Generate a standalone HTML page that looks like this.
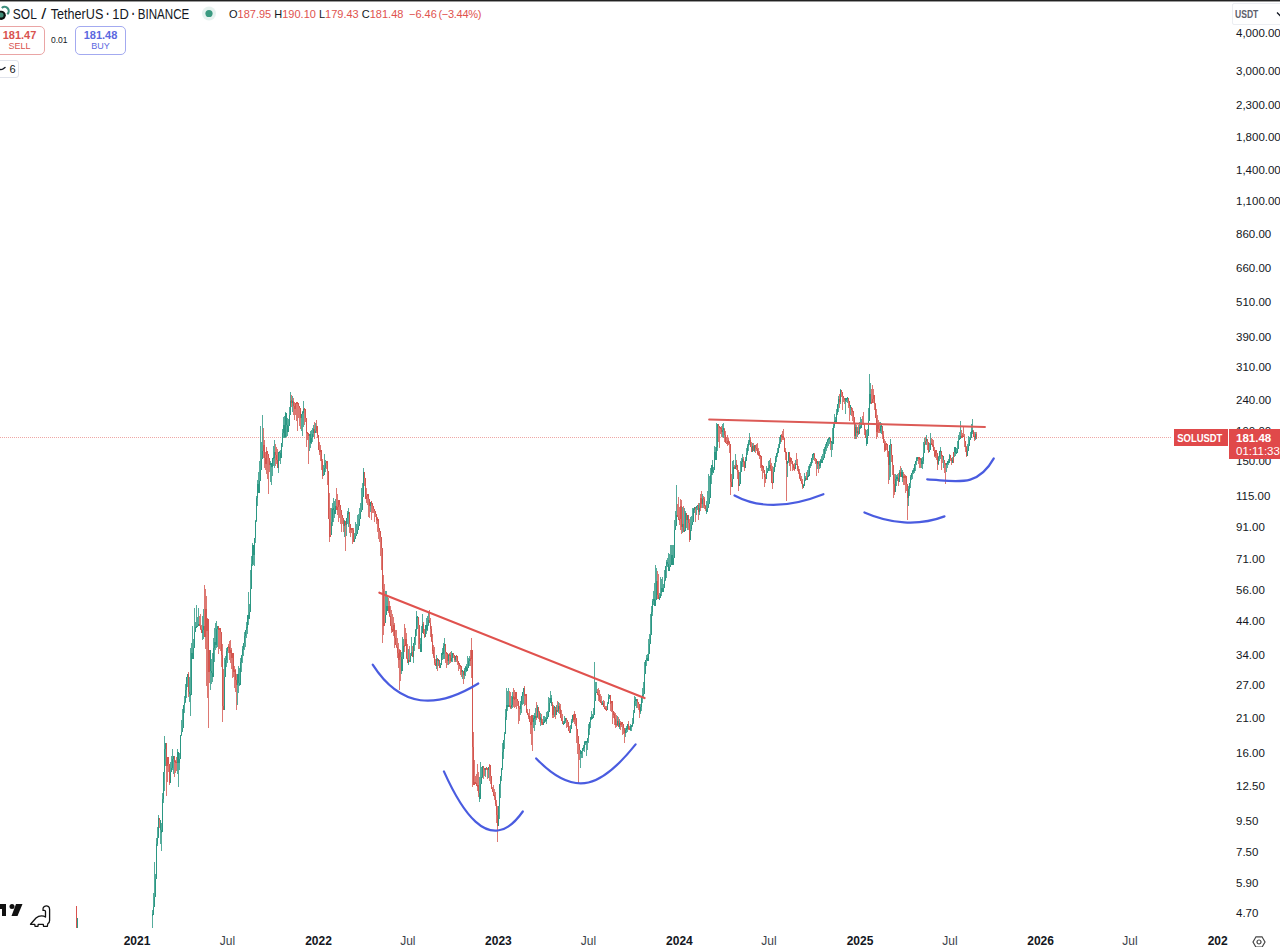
<!DOCTYPE html>
<html><head><meta charset="utf-8">
<style>
html,body{margin:0;padding:0;background:#fff;}
body{width:1280px;height:947px;position:relative;overflow:hidden;font-family:"Liberation Sans",sans-serif;color:#131722;}
.abs{position:absolute;}
.topbar{position:absolute;left:0;top:0;width:1280px;height:1px;background:#222;border-bottom:1px solid #999;}
.usdt{position:absolute;left:1232px;top:3px;width:60px;height:20px;border:1px solid #eceef2;border-radius:2px;font-size:10.5px;font-weight:bold;line-height:20px;color:#5d606b;}
.usdt span{position:absolute;left:2px;top:0;font-size:11px;transform:scaleX(0.78);transform-origin:0 50%;}
.title{position:absolute;left:13px;top:6px;font-size:14px;line-height:17px;color:#131722;white-space:nowrap;letter-spacing:0px;transform:scaleX(0.873);transform-origin:0 0;}
.ohlc{position:absolute;left:229px;top:8px;font-size:11px;line-height:13px;white-space:nowrap;color:#131722;}
.ohlc .r{color:#e0524e;}
.box{position:absolute;top:26px;height:27px;border-radius:5px;background:#fff;text-align:center;}
.sell{left:-6px;width:49px;border:1px solid #eaa5a5;}
.buy{left:75px;width:49px;border:1px solid #a3aaf0;}
.box .p{font-size:11px;font-weight:bold;line-height:12px;margin-top:1.5px;}
.box .l{font-size:9px;line-height:11px;margin-top:0px;}
.sell .p,.sell .l{color:#d9534f;}
.buy .p,.buy .l{color:#5b68e0;}
.spread{position:absolute;left:51px;top:35px;font-size:8.5px;line-height:10px;color:#131722;}
.ind{position:absolute;left:-4px;top:60px;width:21px;height:16px;border:1px solid #e0e3eb;border-radius:3px;font-size:11px;line-height:17px;}
.ind span{position:absolute;left:12.5px;top:-0.5px;}
.pl{position:absolute;left:1236px;font-size:11.5px;line-height:14px;color:#131722;white-space:nowrap;}
.tlwrap{position:absolute;left:0;top:0;width:1228px;height:947px;overflow:hidden;}
.tl{position:absolute;top:934px;width:60px;text-align:center;font-size:12px;line-height:14px;color:#3b3f4a;}
.tl.b{font-weight:bold;color:#131722;}
</style></head><body>
<svg class="abs" style="left:0;top:0" width="1280" height="947" viewBox="0 0 1280 947">
<line x1="0" y1="437.5" x2="1172" y2="437.5" stroke="#e0524e" stroke-width="1" stroke-dasharray="1,1" opacity="0.5"/>
<g shape-rendering="crispEdges">
<rect x="76" y="906" width="1" height="22" fill="#d9534f"/>
<rect x="77" y="918" width="1" height="10" fill="#2f9a86"/>
<rect x="152" y="909.7" width="1" height="18.3" fill="#2b9783" fill-opacity="0.8"/>
<rect x="152" y="914.1" width="1" height="1.5" fill="#2b9783"/>
<rect x="153" y="893.0" width="1" height="22.0" fill="#2b9783" fill-opacity="0.8"/>
<rect x="153" y="907.2" width="1" height="7.6" fill="#2b9783"/>
<rect x="154" y="862.0" width="1" height="35.0" fill="#2b9783" fill-opacity="0.8"/>
<rect x="154" y="897.0" width="1" height="10.2" fill="#2b9783"/>
<rect x="155" y="873.5" width="1" height="5.9" fill="#2b9783" fill-opacity="0.8"/>
<rect x="155" y="879.4" width="1" height="17.6" fill="#2b9783"/>
<rect x="156" y="838.0" width="1" height="24.2" fill="#2b9783" fill-opacity="0.8"/>
<rect x="156" y="843.9" width="1" height="35.5" fill="#2b9783"/>
<rect x="157" y="827.3" width="1" height="19.0" fill="#2b9783" fill-opacity="0.8"/>
<rect x="157" y="838.3" width="1" height="5.6" fill="#2b9783"/>
<rect x="158" y="815.0" width="1" height="19.8" fill="#2b9783" fill-opacity="0.8"/>
<rect x="158" y="818.2" width="1" height="20.1" fill="#2b9783"/>
<rect x="159" y="820.1" width="1" height="7.4" fill="#d4564f" fill-opacity="0.8"/>
<rect x="159" y="818.2" width="1" height="1.9" fill="#d4564f"/>
<rect x="160" y="823.0" width="1" height="21.2" fill="#2b9783" fill-opacity="0.8"/>
<rect x="160" y="820.1" width="1" height="10.3" fill="#2b9783"/>
<rect x="161" y="823.0" width="1" height="28.0" fill="#2b9783" fill-opacity="0.8"/>
<rect x="161" y="829.6" width="1" height="2.9" fill="#2b9783"/>
<rect x="162" y="793.0" width="1" height="34.0" fill="#2b9783" fill-opacity="0.8"/>
<rect x="162" y="798.5" width="1" height="33.2" fill="#2b9783"/>
<rect x="163" y="772.3" width="1" height="30.7" fill="#2b9783" fill-opacity="0.8"/>
<rect x="163" y="772.3" width="1" height="26.2" fill="#2b9783"/>
<rect x="164" y="736.0" width="1" height="55.0" fill="#2b9783" fill-opacity="0.8"/>
<rect x="164" y="749.0" width="1" height="23.3" fill="#2b9783"/>
<rect x="165" y="743.3" width="1" height="22.9" fill="#2b9783" fill-opacity="0.8"/>
<rect x="165" y="743.3" width="1" height="5.7" fill="#2b9783"/>
<rect x="166" y="755.0" width="1" height="41.0" fill="#d4564f" fill-opacity="0.8"/>
<rect x="166" y="743.3" width="1" height="23.1" fill="#d4564f"/>
<rect x="167" y="757.4" width="1" height="25.0" fill="#d4564f" fill-opacity="0.8"/>
<rect x="167" y="757.4" width="1" height="9.0" fill="#d4564f"/>
<rect x="168" y="763.6" width="1" height="8.6" fill="#d4564f" fill-opacity="0.8"/>
<rect x="168" y="757.4" width="1" height="6.2" fill="#d4564f"/>
<rect x="169" y="768.8" width="1" height="16.2" fill="#d4564f" fill-opacity="0.8"/>
<rect x="169" y="763.6" width="1" height="19.7" fill="#d4564f"/>
<rect x="170" y="762.0" width="1" height="12.8" fill="#2b9783" fill-opacity="0.8"/>
<rect x="170" y="772.2" width="1" height="11.1" fill="#2b9783"/>
<rect x="171" y="755.8" width="1" height="16.3" fill="#2b9783" fill-opacity="0.8"/>
<rect x="171" y="768.1" width="1" height="4.1" fill="#2b9783"/>
<rect x="172" y="749.0" width="1" height="21.0" fill="#2b9783" fill-opacity="0.8"/>
<rect x="172" y="759.2" width="1" height="8.8" fill="#2b9783"/>
<rect x="173" y="755.8" width="1" height="17.8" fill="#2b9783" fill-opacity="0.8"/>
<rect x="173" y="755.8" width="1" height="3.4" fill="#2b9783"/>
<rect x="174" y="761.8" width="1" height="15.2" fill="#d4564f" fill-opacity="0.8"/>
<rect x="174" y="755.8" width="1" height="5.9" fill="#d4564f"/>
<rect x="175" y="759.7" width="1" height="13.3" fill="#d4564f" fill-opacity="0.8"/>
<rect x="175" y="761.0" width="1" height="2.0" fill="#d4564f"/>
<rect x="176" y="756.7" width="1" height="13.9" fill="#d4564f" fill-opacity="0.8"/>
<rect x="176" y="761.5" width="1" height="1.8" fill="#d4564f"/>
<rect x="177" y="749.0" width="1" height="25.0" fill="#2b9783" fill-opacity="0.8"/>
<rect x="177" y="751.7" width="1" height="10.8" fill="#2b9783"/>
<rect x="178" y="755.5" width="1" height="31.5" fill="#2b9783" fill-opacity="0.8"/>
<rect x="178" y="751.7" width="1" height="10.8" fill="#2b9783"/>
<rect x="179" y="753.3" width="1" height="16.7" fill="#2b9783" fill-opacity="0.8"/>
<rect x="179" y="759.4" width="1" height="3.2" fill="#2b9783"/>
<rect x="180" y="734.6" width="1" height="18.4" fill="#2b9783" fill-opacity="0.8"/>
<rect x="180" y="734.6" width="1" height="24.8" fill="#2b9783"/>
<rect x="181" y="720.0" width="1" height="16.0" fill="#2b9783" fill-opacity="0.8"/>
<rect x="181" y="731.5" width="1" height="3.2" fill="#2b9783"/>
<rect x="182" y="709.0" width="1" height="19.0" fill="#2b9783" fill-opacity="0.8"/>
<rect x="182" y="728.0" width="1" height="3.5" fill="#2b9783"/>
<rect x="183" y="704.7" width="1" height="15.7" fill="#2b9783" fill-opacity="0.8"/>
<rect x="183" y="705.0" width="1" height="23.0" fill="#2b9783"/>
<rect x="184" y="696.0" width="1" height="17.0" fill="#2b9783" fill-opacity="0.8"/>
<rect x="184" y="702.2" width="1" height="2.7" fill="#2b9783"/>
<rect x="185" y="684.0" width="1" height="19.0" fill="#2b9783" fill-opacity="0.8"/>
<rect x="185" y="689.9" width="1" height="12.3" fill="#2b9783"/>
<rect x="186" y="676.5" width="1" height="21.5" fill="#2b9783" fill-opacity="0.8"/>
<rect x="186" y="676.7" width="1" height="13.2" fill="#2b9783"/>
<rect x="187" y="673.5" width="1" height="13.7" fill="#2b9783" fill-opacity="0.8"/>
<rect x="187" y="673.5" width="1" height="3.2" fill="#2b9783"/>
<rect x="188" y="672.0" width="1" height="24.5" fill="#d4564f" fill-opacity="0.8"/>
<rect x="188" y="673.5" width="1" height="18.6" fill="#d4564f"/>
<rect x="189" y="676.5" width="1" height="25.6" fill="#2b9783" fill-opacity="0.8"/>
<rect x="189" y="692.1" width="1" height="2.2" fill="#2b9783"/>
<rect x="190" y="648.0" width="1" height="68.0" fill="#2b9783" fill-opacity="0.8"/>
<rect x="190" y="693.5" width="1" height="2.2" fill="#2b9783"/>
<rect x="191" y="642.5" width="1" height="26.5" fill="#2b9783" fill-opacity="0.8"/>
<rect x="191" y="653.4" width="1" height="41.6" fill="#2b9783"/>
<rect x="192" y="626.0" width="1" height="33.0" fill="#2b9783" fill-opacity="0.8"/>
<rect x="192" y="653.4" width="1" height="5.3" fill="#2b9783"/>
<rect x="193" y="639.1" width="1" height="8.9" fill="#2b9783" fill-opacity="0.8"/>
<rect x="193" y="648.0" width="1" height="10.7" fill="#2b9783"/>
<rect x="194" y="608.0" width="1" height="28.0" fill="#2b9783" fill-opacity="0.8"/>
<rect x="194" y="632.2" width="1" height="15.8" fill="#2b9783"/>
<rect x="195" y="621.6" width="1" height="7.4" fill="#2b9783" fill-opacity="0.8"/>
<rect x="195" y="627.4" width="1" height="4.8" fill="#2b9783"/>
<rect x="196" y="605.0" width="1" height="22.0" fill="#2b9783" fill-opacity="0.8"/>
<rect x="196" y="626.2" width="1" height="1.9" fill="#2b9783"/>
<rect x="197" y="617.1" width="1" height="8.4" fill="#2b9783" fill-opacity="0.8"/>
<rect x="197" y="625.5" width="1" height="1.5" fill="#2b9783"/>
<rect x="198" y="608.0" width="1" height="16.5" fill="#2b9783" fill-opacity="0.8"/>
<rect x="198" y="623.8" width="1" height="2.5" fill="#2b9783"/>
<rect x="199" y="616.3" width="1" height="9.2" fill="#d4564f" fill-opacity="0.8"/>
<rect x="199" y="623.8" width="1" height="2.5" fill="#d4564f"/>
<rect x="200" y="613.7" width="1" height="16.3" fill="#d4564f" fill-opacity="0.8"/>
<rect x="200" y="625.5" width="1" height="3.0" fill="#d4564f"/>
<rect x="201" y="624.6" width="1" height="7.9" fill="#d4564f" fill-opacity="0.8"/>
<rect x="201" y="628.5" width="1" height="4.0" fill="#d4564f"/>
<rect x="202" y="616.0" width="1" height="24.0" fill="#2b9783" fill-opacity="0.8"/>
<rect x="202" y="629.8" width="1" height="2.7" fill="#2b9783"/>
<rect x="203" y="609.3" width="1" height="29.7" fill="#2b9783" fill-opacity="0.8"/>
<rect x="203" y="626.0" width="1" height="3.8" fill="#2b9783"/>
<rect x="204" y="585.0" width="1" height="52.0" fill="#d4564f" fill-opacity="0.8"/>
<rect x="204" y="626.0" width="1" height="11.0" fill="#d4564f"/>
<rect x="205" y="588.8" width="1" height="59.8" fill="#d4564f" fill-opacity="0.8"/>
<rect x="205" y="609.1" width="1" height="27.9" fill="#d4564f"/>
<rect x="206" y="596.2" width="1" height="89.8" fill="#d4564f" fill-opacity="0.8"/>
<rect x="206" y="609.1" width="1" height="21.6" fill="#d4564f"/>
<rect x="207" y="618.0" width="1" height="79.8" fill="#d4564f" fill-opacity="0.8"/>
<rect x="207" y="619.3" width="1" height="11.4" fill="#d4564f"/>
<rect x="208" y="636.0" width="1" height="92.0" fill="#d4564f" fill-opacity="0.8"/>
<rect x="208" y="619.3" width="1" height="52.9" fill="#d4564f"/>
<rect x="209" y="649.5" width="1" height="33.6" fill="#d4564f" fill-opacity="0.8"/>
<rect x="209" y="649.5" width="1" height="22.6" fill="#d4564f"/>
<rect x="210" y="654.0" width="1" height="36.0" fill="#2b9783" fill-opacity="0.8"/>
<rect x="210" y="649.5" width="1" height="21.4" fill="#2b9783"/>
<rect x="211" y="658.5" width="1" height="25.5" fill="#2b9783" fill-opacity="0.8"/>
<rect x="211" y="670.9" width="1" height="1.6" fill="#2b9783"/>
<rect x="212" y="652.5" width="1" height="29.5" fill="#2b9783" fill-opacity="0.8"/>
<rect x="212" y="672.5" width="1" height="4.5" fill="#2b9783"/>
<rect x="213" y="637.7" width="1" height="29.3" fill="#2b9783" fill-opacity="0.8"/>
<rect x="213" y="647.9" width="1" height="29.1" fill="#2b9783"/>
<rect x="214" y="627.8" width="1" height="34.2" fill="#2b9783" fill-opacity="0.8"/>
<rect x="214" y="642.4" width="1" height="5.5" fill="#2b9783"/>
<rect x="215" y="623.2" width="1" height="26.8" fill="#2b9783" fill-opacity="0.8"/>
<rect x="215" y="642.4" width="1" height="2.4" fill="#2b9783"/>
<rect x="216" y="621.0" width="1" height="27.0" fill="#2b9783" fill-opacity="0.8"/>
<rect x="216" y="629.0" width="1" height="15.8" fill="#2b9783"/>
<rect x="217" y="626.2" width="1" height="21.0" fill="#2b9783" fill-opacity="0.8"/>
<rect x="217" y="626.2" width="1" height="2.7" fill="#2b9783"/>
<rect x="218" y="628.0" width="1" height="26.0" fill="#d4564f" fill-opacity="0.8"/>
<rect x="218" y="626.2" width="1" height="3.6" fill="#d4564f"/>
<rect x="219" y="628.0" width="1" height="21.0" fill="#d4564f" fill-opacity="0.8"/>
<rect x="219" y="628.0" width="1" height="1.9" fill="#d4564f"/>
<rect x="220" y="628.0" width="1" height="22.8" fill="#d4564f" fill-opacity="0.8"/>
<rect x="220" y="628.0" width="1" height="4.0" fill="#d4564f"/>
<rect x="221" y="640.0" width="1" height="26.6" fill="#d4564f" fill-opacity="0.8"/>
<rect x="221" y="632.0" width="1" height="23.3" fill="#d4564f"/>
<rect x="222" y="644.0" width="1" height="78.0" fill="#d4564f" fill-opacity="0.8"/>
<rect x="222" y="655.3" width="1" height="50.7" fill="#d4564f"/>
<rect x="223" y="668.8" width="1" height="41.2" fill="#d4564f" fill-opacity="0.8"/>
<rect x="223" y="706.0" width="1" height="4.0" fill="#d4564f"/>
<rect x="224" y="658.0" width="1" height="28.0" fill="#2b9783" fill-opacity="0.8"/>
<rect x="224" y="676.9" width="1" height="33.1" fill="#2b9783"/>
<rect x="225" y="656.3" width="1" height="15.2" fill="#2b9783" fill-opacity="0.8"/>
<rect x="225" y="659.6" width="1" height="17.3" fill="#2b9783"/>
<rect x="226" y="648.0" width="1" height="18.5" fill="#2b9783" fill-opacity="0.8"/>
<rect x="226" y="650.5" width="1" height="9.1" fill="#2b9783"/>
<rect x="227" y="646.7" width="1" height="16.1" fill="#2b9783" fill-opacity="0.8"/>
<rect x="227" y="646.7" width="1" height="3.8" fill="#2b9783"/>
<rect x="228" y="644.0" width="1" height="9.4" fill="#d4564f" fill-opacity="0.8"/>
<rect x="228" y="645.9" width="1" height="1.8" fill="#d4564f"/>
<rect x="229" y="641.3" width="1" height="18.5" fill="#d4564f" fill-opacity="0.8"/>
<rect x="229" y="647.0" width="1" height="5.7" fill="#d4564f"/>
<rect x="230" y="640.0" width="1" height="22.8" fill="#d4564f" fill-opacity="0.8"/>
<rect x="230" y="649.6" width="1" height="3.1" fill="#d4564f"/>
<rect x="231" y="648.0" width="1" height="21.0" fill="#d4564f" fill-opacity="0.8"/>
<rect x="231" y="649.6" width="1" height="8.8" fill="#d4564f"/>
<rect x="232" y="653.3" width="1" height="24.7" fill="#d4564f" fill-opacity="0.8"/>
<rect x="232" y="653.3" width="1" height="5.1" fill="#d4564f"/>
<rect x="233" y="658.5" width="1" height="18.1" fill="#d4564f" fill-opacity="0.8"/>
<rect x="233" y="653.3" width="1" height="18.6" fill="#d4564f"/>
<rect x="234" y="665.6" width="1" height="22.4" fill="#d4564f" fill-opacity="0.8"/>
<rect x="234" y="670.0" width="1" height="1.9" fill="#d4564f"/>
<rect x="235" y="668.5" width="1" height="23.8" fill="#d4564f" fill-opacity="0.8"/>
<rect x="235" y="670.0" width="1" height="9.6" fill="#d4564f"/>
<rect x="236" y="673.5" width="1" height="36.5" fill="#d4564f" fill-opacity="0.8"/>
<rect x="236" y="679.6" width="1" height="4.9" fill="#d4564f"/>
<rect x="237" y="673.5" width="1" height="31.0" fill="#2b9783" fill-opacity="0.8"/>
<rect x="237" y="673.5" width="1" height="11.0" fill="#2b9783"/>
<rect x="238" y="666.0" width="1" height="26.5" fill="#2b9783" fill-opacity="0.8"/>
<rect x="238" y="673.5" width="1" height="9.5" fill="#2b9783"/>
<rect x="239" y="667.9" width="1" height="17.6" fill="#2b9783" fill-opacity="0.8"/>
<rect x="239" y="683.0" width="1" height="1.7" fill="#2b9783"/>
<rect x="240" y="658.0" width="1" height="22.5" fill="#2b9783" fill-opacity="0.8"/>
<rect x="240" y="662.3" width="1" height="22.4" fill="#2b9783"/>
<rect x="241" y="655.0" width="1" height="16.8" fill="#2b9783" fill-opacity="0.8"/>
<rect x="241" y="655.0" width="1" height="7.3" fill="#2b9783"/>
<rect x="242" y="646.0" width="1" height="16.7" fill="#2b9783" fill-opacity="0.8"/>
<rect x="242" y="649.0" width="1" height="6.0" fill="#2b9783"/>
<rect x="243" y="642.5" width="1" height="13.5" fill="#2b9783" fill-opacity="0.8"/>
<rect x="243" y="642.7" width="1" height="6.3" fill="#2b9783"/>
<rect x="244" y="632.0" width="1" height="18.0" fill="#2b9783" fill-opacity="0.8"/>
<rect x="244" y="635.5" width="1" height="7.2" fill="#2b9783"/>
<rect x="245" y="629.5" width="1" height="17.5" fill="#2b9783" fill-opacity="0.8"/>
<rect x="245" y="629.5" width="1" height="6.0" fill="#2b9783"/>
<rect x="246" y="622.0" width="1" height="16.0" fill="#2b9783" fill-opacity="0.8"/>
<rect x="246" y="627.4" width="1" height="2.9" fill="#2b9783"/>
<rect x="247" y="614.5" width="1" height="19.0" fill="#2b9783" fill-opacity="0.8"/>
<rect x="247" y="615.1" width="1" height="13.0" fill="#2b9783"/>
<rect x="248" y="592.0" width="1" height="32.5" fill="#2b9783" fill-opacity="0.8"/>
<rect x="248" y="615.1" width="1" height="3.6" fill="#2b9783"/>
<rect x="249" y="603.6" width="1" height="8.1" fill="#2b9783" fill-opacity="0.8"/>
<rect x="249" y="611.7" width="1" height="7.1" fill="#2b9783"/>
<rect x="250" y="570.0" width="1" height="25.0" fill="#2b9783" fill-opacity="0.8"/>
<rect x="250" y="589.4" width="1" height="22.3" fill="#2b9783"/>
<rect x="251" y="555.7" width="1" height="19.9" fill="#2b9783" fill-opacity="0.8"/>
<rect x="251" y="563.8" width="1" height="25.6" fill="#2b9783"/>
<rect x="252" y="543.0" width="1" height="23.0" fill="#2b9783" fill-opacity="0.8"/>
<rect x="252" y="544.8" width="1" height="19.0" fill="#2b9783"/>
<rect x="253" y="546.0" width="1" height="18.6" fill="#2b9783" fill-opacity="0.8"/>
<rect x="253" y="544.8" width="1" height="10.2" fill="#2b9783"/>
<rect x="254" y="538.0" width="1" height="28.0" fill="#2b9783" fill-opacity="0.8"/>
<rect x="254" y="538.1" width="1" height="16.9" fill="#2b9783"/>
<rect x="255" y="520.0" width="1" height="23.0" fill="#2b9783" fill-opacity="0.8"/>
<rect x="255" y="520.8" width="1" height="17.3" fill="#2b9783"/>
<rect x="256" y="496.0" width="1" height="26.1" fill="#2b9783" fill-opacity="0.8"/>
<rect x="256" y="498.2" width="1" height="22.6" fill="#2b9783"/>
<rect x="257" y="480.0" width="1" height="25.8" fill="#2b9783" fill-opacity="0.8"/>
<rect x="257" y="484.0" width="1" height="14.2" fill="#2b9783"/>
<rect x="258" y="471.7" width="1" height="21.0" fill="#2b9783" fill-opacity="0.8"/>
<rect x="258" y="484.0" width="1" height="8.7" fill="#2b9783"/>
<rect x="259" y="461.0" width="1" height="21.0" fill="#2b9783" fill-opacity="0.8"/>
<rect x="259" y="480.9" width="1" height="11.8" fill="#2b9783"/>
<rect x="260" y="426.0" width="1" height="43.6" fill="#2b9783" fill-opacity="0.8"/>
<rect x="260" y="469.6" width="1" height="11.2" fill="#2b9783"/>
<rect x="261" y="441.5" width="1" height="17.5" fill="#2b9783" fill-opacity="0.8"/>
<rect x="261" y="459.0" width="1" height="10.6" fill="#2b9783"/>
<rect x="262" y="415.0" width="1" height="35.8" fill="#2b9783" fill-opacity="0.8"/>
<rect x="262" y="450.8" width="1" height="8.2" fill="#2b9783"/>
<rect x="263" y="427.9" width="1" height="30.3" fill="#d4564f" fill-opacity="0.8"/>
<rect x="263" y="445.3" width="1" height="5.5" fill="#d4564f"/>
<rect x="264" y="439.5" width="1" height="28.5" fill="#d4564f" fill-opacity="0.8"/>
<rect x="264" y="445.3" width="1" height="12.8" fill="#d4564f"/>
<rect x="265" y="451.8" width="1" height="18.4" fill="#d4564f" fill-opacity="0.8"/>
<rect x="265" y="458.1" width="1" height="6.2" fill="#d4564f"/>
<rect x="266" y="447.0" width="1" height="27.3" fill="#d4564f" fill-opacity="0.8"/>
<rect x="266" y="451.1" width="1" height="13.2" fill="#d4564f"/>
<rect x="267" y="453.9" width="1" height="25.5" fill="#d4564f" fill-opacity="0.8"/>
<rect x="267" y="451.1" width="1" height="2.7" fill="#d4564f"/>
<rect x="268" y="457.0" width="1" height="37.0" fill="#d4564f" fill-opacity="0.8"/>
<rect x="268" y="453.9" width="1" height="4.1" fill="#d4564f"/>
<rect x="269" y="460.0" width="1" height="12.2" fill="#d4564f" fill-opacity="0.8"/>
<rect x="269" y="458.0" width="1" height="7.1" fill="#d4564f"/>
<rect x="270" y="461.0" width="1" height="21.0" fill="#2b9783" fill-opacity="0.8"/>
<rect x="270" y="463.1" width="1" height="2.1" fill="#2b9783"/>
<rect x="271" y="467.2" width="1" height="17.8" fill="#2b9783" fill-opacity="0.8"/>
<rect x="271" y="463.1" width="1" height="4.3" fill="#2b9783"/>
<rect x="272" y="458.3" width="1" height="17.2" fill="#2b9783" fill-opacity="0.8"/>
<rect x="272" y="458.3" width="1" height="9.1" fill="#2b9783"/>
<rect x="273" y="446.1" width="1" height="20.3" fill="#2b9783" fill-opacity="0.8"/>
<rect x="273" y="457.4" width="1" height="1.6" fill="#2b9783"/>
<rect x="274" y="440.0" width="1" height="28.0" fill="#2b9783" fill-opacity="0.8"/>
<rect x="274" y="452.2" width="1" height="5.9" fill="#2b9783"/>
<rect x="275" y="444.4" width="1" height="21.1" fill="#d4564f" fill-opacity="0.8"/>
<rect x="275" y="452.2" width="1" height="2.9" fill="#d4564f"/>
<rect x="276" y="447.0" width="1" height="17.2" fill="#d4564f" fill-opacity="0.8"/>
<rect x="276" y="455.1" width="1" height="4.4" fill="#d4564f"/>
<rect x="277" y="449.4" width="1" height="18.9" fill="#d4564f" fill-opacity="0.8"/>
<rect x="277" y="459.6" width="1" height="8.7" fill="#d4564f"/>
<rect x="278" y="451.6" width="1" height="21.4" fill="#2b9783" fill-opacity="0.8"/>
<rect x="278" y="451.6" width="1" height="16.7" fill="#2b9783"/>
<rect x="279" y="451.3" width="1" height="9.2" fill="#2b9783" fill-opacity="0.8"/>
<rect x="279" y="451.6" width="1" height="1.6" fill="#2b9783"/>
<rect x="280" y="450.0" width="1" height="13.6" fill="#2b9783" fill-opacity="0.8"/>
<rect x="280" y="453.1" width="1" height="4.6" fill="#2b9783"/>
<rect x="281" y="443.1" width="1" height="13.1" fill="#2b9783" fill-opacity="0.8"/>
<rect x="281" y="443.1" width="1" height="14.6" fill="#2b9783"/>
<rect x="282" y="429.4" width="1" height="17.3" fill="#2b9783" fill-opacity="0.8"/>
<rect x="282" y="432.9" width="1" height="10.2" fill="#2b9783"/>
<rect x="283" y="417.0" width="1" height="21.0" fill="#2b9783" fill-opacity="0.8"/>
<rect x="283" y="425.1" width="1" height="7.9" fill="#2b9783"/>
<rect x="284" y="416.1" width="1" height="21.9" fill="#2b9783" fill-opacity="0.8"/>
<rect x="284" y="425.1" width="1" height="11.9" fill="#2b9783"/>
<rect x="285" y="412.0" width="1" height="26.0" fill="#2b9783" fill-opacity="0.8"/>
<rect x="285" y="413.4" width="1" height="23.6" fill="#2b9783"/>
<rect x="286" y="416.0" width="1" height="21.0" fill="#2b9783" fill-opacity="0.8"/>
<rect x="286" y="413.4" width="1" height="11.1" fill="#2b9783"/>
<rect x="287" y="418.1" width="1" height="17.9" fill="#2b9783" fill-opacity="0.8"/>
<rect x="287" y="424.5" width="1" height="7.8" fill="#2b9783"/>
<rect x="288" y="418.8" width="1" height="7.6" fill="#2b9783" fill-opacity="0.8"/>
<rect x="288" y="426.4" width="1" height="5.9" fill="#2b9783"/>
<rect x="289" y="406.8" width="1" height="11.6" fill="#2b9783" fill-opacity="0.8"/>
<rect x="289" y="415.2" width="1" height="11.2" fill="#2b9783"/>
<rect x="290" y="392.0" width="1" height="20.0" fill="#2b9783" fill-opacity="0.8"/>
<rect x="290" y="401.1" width="1" height="14.1" fill="#2b9783"/>
<rect x="291" y="394.5" width="1" height="12.3" fill="#d4564f" fill-opacity="0.8"/>
<rect x="291" y="400.4" width="1" height="2.5" fill="#d4564f"/>
<rect x="292" y="396.0" width="1" height="16.0" fill="#2b9783" fill-opacity="0.8"/>
<rect x="292" y="400.5" width="1" height="2.4" fill="#2b9783"/>
<rect x="293" y="398.4" width="1" height="16.2" fill="#d4564f" fill-opacity="0.8"/>
<rect x="293" y="401.2" width="1" height="4.6" fill="#d4564f"/>
<rect x="294" y="401.5" width="1" height="18.5" fill="#d4564f" fill-opacity="0.8"/>
<rect x="294" y="405.8" width="1" height="3.4" fill="#d4564f"/>
<rect x="295" y="403.0" width="1" height="12.0" fill="#d4564f" fill-opacity="0.8"/>
<rect x="295" y="403.0" width="1" height="6.2" fill="#d4564f"/>
<rect x="296" y="403.0" width="1" height="18.0" fill="#d4564f" fill-opacity="0.8"/>
<rect x="296" y="402.2" width="1" height="1.5" fill="#d4564f"/>
<rect x="297" y="403.0" width="1" height="28.0" fill="#d4564f" fill-opacity="0.8"/>
<rect x="297" y="402.2" width="1" height="1.9" fill="#d4564f"/>
<rect x="298" y="405.5" width="1" height="12.4" fill="#d4564f" fill-opacity="0.8"/>
<rect x="298" y="403.4" width="1" height="2.1" fill="#d4564f"/>
<rect x="299" y="407.6" width="1" height="18.4" fill="#d4564f" fill-opacity="0.8"/>
<rect x="299" y="405.5" width="1" height="2.1" fill="#d4564f"/>
<rect x="300" y="410.4" width="1" height="19.0" fill="#d4564f" fill-opacity="0.8"/>
<rect x="300" y="407.6" width="1" height="10.3" fill="#d4564f"/>
<rect x="301" y="413.5" width="1" height="17.6" fill="#2b9783" fill-opacity="0.8"/>
<rect x="301" y="413.5" width="1" height="4.4" fill="#2b9783"/>
<rect x="302" y="410.6" width="1" height="25.4" fill="#2b9783" fill-opacity="0.8"/>
<rect x="302" y="411.9" width="1" height="2.3" fill="#2b9783"/>
<rect x="303" y="401.0" width="1" height="25.6" fill="#2b9783" fill-opacity="0.8"/>
<rect x="303" y="408.7" width="1" height="3.9" fill="#2b9783"/>
<rect x="304" y="408.9" width="1" height="15.6" fill="#d4564f" fill-opacity="0.8"/>
<rect x="304" y="408.0" width="1" height="1.6" fill="#d4564f"/>
<rect x="305" y="417.6" width="1" height="4.7" fill="#d4564f" fill-opacity="0.8"/>
<rect x="305" y="408.9" width="1" height="8.8" fill="#d4564f"/>
<rect x="306" y="422.0" width="1" height="24.6" fill="#d4564f" fill-opacity="0.8"/>
<rect x="306" y="417.6" width="1" height="15.6" fill="#d4564f"/>
<rect x="307" y="432.5" width="1" height="7.3" fill="#d4564f" fill-opacity="0.8"/>
<rect x="307" y="431.8" width="1" height="2.3" fill="#d4564f"/>
<rect x="308" y="435.2" width="1" height="28.8" fill="#d4564f" fill-opacity="0.8"/>
<rect x="308" y="432.5" width="1" height="3.8" fill="#d4564f"/>
<rect x="309" y="433.5" width="1" height="17.1" fill="#2b9783" fill-opacity="0.8"/>
<rect x="309" y="433.5" width="1" height="2.8" fill="#2b9783"/>
<rect x="310" y="431.0" width="1" height="17.2" fill="#2b9783" fill-opacity="0.8"/>
<rect x="310" y="433.5" width="1" height="9.0" fill="#2b9783"/>
<rect x="311" y="429.8" width="1" height="14.3" fill="#2b9783" fill-opacity="0.8"/>
<rect x="311" y="437.5" width="1" height="5.0" fill="#2b9783"/>
<rect x="312" y="428.1" width="1" height="14.1" fill="#2b9783" fill-opacity="0.8"/>
<rect x="312" y="433.5" width="1" height="4.0" fill="#2b9783"/>
<rect x="313" y="425.1" width="1" height="11.6" fill="#2b9783" fill-opacity="0.8"/>
<rect x="313" y="429.1" width="1" height="4.3" fill="#2b9783"/>
<rect x="314" y="422.0" width="1" height="16.6" fill="#d4564f" fill-opacity="0.8"/>
<rect x="314" y="429.1" width="1" height="4.1" fill="#d4564f"/>
<rect x="315" y="422.7" width="1" height="10.6" fill="#2b9783" fill-opacity="0.8"/>
<rect x="315" y="430.7" width="1" height="2.6" fill="#2b9783"/>
<rect x="316" y="420.0" width="1" height="13.4" fill="#d4564f" fill-opacity="0.8"/>
<rect x="316" y="426.4" width="1" height="4.4" fill="#d4564f"/>
<rect x="317" y="433.5" width="1" height="4.7" fill="#d4564f" fill-opacity="0.8"/>
<rect x="317" y="426.4" width="1" height="8.8" fill="#d4564f"/>
<rect x="318" y="438.0" width="1" height="11.7" fill="#d4564f" fill-opacity="0.8"/>
<rect x="318" y="435.2" width="1" height="14.5" fill="#d4564f"/>
<rect x="319" y="442.0" width="1" height="13.0" fill="#d4564f" fill-opacity="0.8"/>
<rect x="319" y="449.7" width="1" height="2.3" fill="#d4564f"/>
<rect x="320" y="444.9" width="1" height="16.1" fill="#d4564f" fill-opacity="0.8"/>
<rect x="320" y="450.2" width="1" height="1.8" fill="#d4564f"/>
<rect x="321" y="452.0" width="1" height="18.0" fill="#d4564f" fill-opacity="0.8"/>
<rect x="321" y="450.2" width="1" height="10.7" fill="#d4564f"/>
<rect x="322" y="458.8" width="1" height="20.2" fill="#d4564f" fill-opacity="0.8"/>
<rect x="322" y="460.9" width="1" height="15.3" fill="#d4564f"/>
<rect x="323" y="465.2" width="1" height="9.4" fill="#2b9783" fill-opacity="0.8"/>
<rect x="323" y="474.6" width="1" height="1.6" fill="#2b9783"/>
<rect x="324" y="454.0" width="1" height="16.6" fill="#2b9783" fill-opacity="0.8"/>
<rect x="324" y="467.8" width="1" height="6.8" fill="#2b9783"/>
<rect x="325" y="459.8" width="1" height="11.7" fill="#2b9783" fill-opacity="0.8"/>
<rect x="325" y="462.9" width="1" height="4.9" fill="#2b9783"/>
<rect x="326" y="460.7" width="1" height="8.6" fill="#d4564f" fill-opacity="0.8"/>
<rect x="326" y="461.2" width="1" height="1.7" fill="#d4564f"/>
<rect x="327" y="464.0" width="1" height="21.2" fill="#d4564f" fill-opacity="0.8"/>
<rect x="327" y="461.2" width="1" height="10.2" fill="#d4564f"/>
<rect x="328" y="482.3" width="1" height="36.5" fill="#d4564f" fill-opacity="0.8"/>
<rect x="328" y="471.4" width="1" height="47.4" fill="#d4564f"/>
<rect x="329" y="493.0" width="1" height="49.0" fill="#d4564f" fill-opacity="0.8"/>
<rect x="329" y="518.8" width="1" height="18.6" fill="#d4564f"/>
<rect x="330" y="508.0" width="1" height="26.8" fill="#d4564f" fill-opacity="0.8"/>
<rect x="330" y="534.8" width="1" height="2.6" fill="#d4564f"/>
<rect x="331" y="508.4" width="1" height="21.5" fill="#2b9783" fill-opacity="0.8"/>
<rect x="331" y="522.4" width="1" height="12.4" fill="#2b9783"/>
<rect x="332" y="503.3" width="1" height="22.4" fill="#2b9783" fill-opacity="0.8"/>
<rect x="332" y="508.9" width="1" height="13.5" fill="#2b9783"/>
<rect x="333" y="497.7" width="1" height="24.3" fill="#2b9783" fill-opacity="0.8"/>
<rect x="333" y="508.1" width="1" height="2.3" fill="#2b9783"/>
<rect x="334" y="501.0" width="1" height="16.7" fill="#2b9783" fill-opacity="0.8"/>
<rect x="334" y="509.7" width="1" height="4.5" fill="#2b9783"/>
<rect x="335" y="498.6" width="1" height="15.3" fill="#2b9783" fill-opacity="0.8"/>
<rect x="335" y="505.9" width="1" height="8.3" fill="#2b9783"/>
<rect x="336" y="488.0" width="1" height="22.0" fill="#d4564f" fill-opacity="0.8"/>
<rect x="336" y="505.9" width="1" height="4.1" fill="#d4564f"/>
<rect x="337" y="494.0" width="1" height="20.8" fill="#d4564f" fill-opacity="0.8"/>
<rect x="337" y="507.4" width="1" height="2.6" fill="#d4564f"/>
<rect x="338" y="500.0" width="1" height="22.0" fill="#d4564f" fill-opacity="0.8"/>
<rect x="338" y="500.0" width="1" height="7.4" fill="#d4564f"/>
<rect x="339" y="505.4" width="1" height="12.6" fill="#d4564f" fill-opacity="0.8"/>
<rect x="339" y="500.0" width="1" height="5.4" fill="#d4564f"/>
<rect x="340" y="510.2" width="1" height="13.6" fill="#d4564f" fill-opacity="0.8"/>
<rect x="340" y="505.4" width="1" height="4.8" fill="#d4564f"/>
<rect x="341" y="515.1" width="1" height="16.9" fill="#d4564f" fill-opacity="0.8"/>
<rect x="341" y="510.2" width="1" height="4.8" fill="#d4564f"/>
<rect x="342" y="517.8" width="1" height="5.7" fill="#d4564f" fill-opacity="0.8"/>
<rect x="342" y="515.1" width="1" height="2.7" fill="#d4564f"/>
<rect x="343" y="519.0" width="1" height="13.4" fill="#d4564f" fill-opacity="0.8"/>
<rect x="343" y="517.8" width="1" height="8.2" fill="#d4564f"/>
<rect x="344" y="520.0" width="1" height="17.0" fill="#2b9783" fill-opacity="0.8"/>
<rect x="344" y="520.8" width="1" height="5.1" fill="#2b9783"/>
<rect x="345" y="525.0" width="1" height="26.0" fill="#d4564f" fill-opacity="0.8"/>
<rect x="345" y="520.8" width="1" height="4.2" fill="#d4564f"/>
<rect x="346" y="518.2" width="1" height="18.2" fill="#2b9783" fill-opacity="0.8"/>
<rect x="346" y="518.2" width="1" height="6.8" fill="#2b9783"/>
<rect x="347" y="511.4" width="1" height="12.1" fill="#2b9783" fill-opacity="0.8"/>
<rect x="347" y="513.1" width="1" height="5.1" fill="#2b9783"/>
<rect x="348" y="508.0" width="1" height="19.0" fill="#2b9783" fill-opacity="0.8"/>
<rect x="348" y="511.6" width="1" height="2.2" fill="#2b9783"/>
<rect x="349" y="519.9" width="1" height="13.4" fill="#d4564f" fill-opacity="0.8"/>
<rect x="349" y="512.4" width="1" height="11.2" fill="#d4564f"/>
<rect x="350" y="527.0" width="1" height="10.0" fill="#d4564f" fill-opacity="0.8"/>
<rect x="350" y="523.6" width="1" height="6.7" fill="#d4564f"/>
<rect x="351" y="528.4" width="1" height="4.8" fill="#d4564f" fill-opacity="0.8"/>
<rect x="351" y="528.4" width="1" height="1.9" fill="#d4564f"/>
<rect x="352" y="529.6" width="1" height="14.4" fill="#d4564f" fill-opacity="0.8"/>
<rect x="352" y="527.6" width="1" height="2.8" fill="#d4564f"/>
<rect x="353" y="527.8" width="1" height="14.3" fill="#d4564f" fill-opacity="0.8"/>
<rect x="353" y="529.6" width="1" height="12.4" fill="#d4564f"/>
<rect x="354" y="532.5" width="1" height="6.8" fill="#2b9783" fill-opacity="0.8"/>
<rect x="354" y="539.2" width="1" height="2.8" fill="#2b9783"/>
<rect x="355" y="522.0" width="1" height="15.0" fill="#2b9783" fill-opacity="0.8"/>
<rect x="355" y="536.4" width="1" height="2.8" fill="#2b9783"/>
<rect x="356" y="523.6" width="1" height="9.9" fill="#2b9783" fill-opacity="0.8"/>
<rect x="356" y="533.5" width="1" height="2.9" fill="#2b9783"/>
<rect x="357" y="515.0" width="1" height="15.6" fill="#2b9783" fill-opacity="0.8"/>
<rect x="357" y="529.7" width="1" height="3.8" fill="#2b9783"/>
<rect x="358" y="513.7" width="1" height="11.8" fill="#2b9783" fill-opacity="0.8"/>
<rect x="358" y="525.5" width="1" height="4.2" fill="#2b9783"/>
<rect x="359" y="508.0" width="1" height="11.8" fill="#2b9783" fill-opacity="0.8"/>
<rect x="359" y="518.8" width="1" height="6.7" fill="#2b9783"/>
<rect x="360" y="503.0" width="1" height="14.0" fill="#2b9783" fill-opacity="0.8"/>
<rect x="360" y="512.4" width="1" height="6.4" fill="#2b9783"/>
<rect x="361" y="488.0" width="1" height="21.5" fill="#2b9783" fill-opacity="0.8"/>
<rect x="361" y="509.5" width="1" height="2.9" fill="#2b9783"/>
<rect x="362" y="483.0" width="1" height="18.0" fill="#2b9783" fill-opacity="0.8"/>
<rect x="362" y="496.9" width="1" height="12.6" fill="#2b9783"/>
<rect x="363" y="468.0" width="1" height="23.0" fill="#2b9783" fill-opacity="0.8"/>
<rect x="363" y="471.8" width="1" height="25.1" fill="#2b9783"/>
<rect x="364" y="473.8" width="1" height="11.7" fill="#d4564f" fill-opacity="0.8"/>
<rect x="364" y="471.8" width="1" height="6.3" fill="#d4564f"/>
<rect x="365" y="482.2" width="1" height="16.5" fill="#d4564f" fill-opacity="0.8"/>
<rect x="365" y="478.2" width="1" height="20.5" fill="#d4564f"/>
<rect x="366" y="488.0" width="1" height="15.0" fill="#d4564f" fill-opacity="0.8"/>
<rect x="366" y="495.8" width="1" height="2.8" fill="#d4564f"/>
<rect x="367" y="494.2" width="1" height="10.9" fill="#d4564f" fill-opacity="0.8"/>
<rect x="367" y="494.2" width="1" height="1.6" fill="#d4564f"/>
<rect x="368" y="499.0" width="1" height="18.0" fill="#d4564f" fill-opacity="0.8"/>
<rect x="368" y="494.2" width="1" height="4.8" fill="#d4564f"/>
<rect x="369" y="500.8" width="1" height="17.0" fill="#d4564f" fill-opacity="0.8"/>
<rect x="369" y="499.0" width="1" height="7.0" fill="#d4564f"/>
<rect x="370" y="501.9" width="1" height="10.1" fill="#2b9783" fill-opacity="0.8"/>
<rect x="370" y="501.9" width="1" height="4.2" fill="#2b9783"/>
<rect x="371" y="502.9" width="1" height="17.1" fill="#d4564f" fill-opacity="0.8"/>
<rect x="371" y="501.1" width="1" height="2.5" fill="#d4564f"/>
<rect x="372" y="505.6" width="1" height="7.8" fill="#d4564f" fill-opacity="0.8"/>
<rect x="372" y="502.9" width="1" height="2.7" fill="#d4564f"/>
<rect x="373" y="508.5" width="1" height="4.7" fill="#d4564f" fill-opacity="0.8"/>
<rect x="373" y="505.6" width="1" height="2.9" fill="#d4564f"/>
<rect x="374" y="511.4" width="1" height="10.6" fill="#d4564f" fill-opacity="0.8"/>
<rect x="374" y="508.5" width="1" height="2.9" fill="#d4564f"/>
<rect x="375" y="513.6" width="1" height="3.8" fill="#d4564f" fill-opacity="0.8"/>
<rect x="375" y="511.4" width="1" height="2.2" fill="#d4564f"/>
<rect x="376" y="515.6" width="1" height="8.8" fill="#d4564f" fill-opacity="0.8"/>
<rect x="376" y="513.6" width="1" height="6.3" fill="#d4564f"/>
<rect x="377" y="517.0" width="1" height="15.0" fill="#d4564f" fill-opacity="0.8"/>
<rect x="377" y="518.0" width="1" height="2.6" fill="#d4564f"/>
<rect x="378" y="524.6" width="1" height="14.4" fill="#d4564f" fill-opacity="0.8"/>
<rect x="378" y="518.8" width="1" height="8.8" fill="#d4564f"/>
<rect x="379" y="530.8" width="1" height="11.1" fill="#d4564f" fill-opacity="0.8"/>
<rect x="379" y="527.6" width="1" height="3.2" fill="#d4564f"/>
<rect x="380" y="537.1" width="1" height="18.9" fill="#d4564f" fill-opacity="0.8"/>
<rect x="380" y="530.8" width="1" height="6.3" fill="#d4564f"/>
<rect x="381" y="546.0" width="1" height="24.2" fill="#d4564f" fill-opacity="0.8"/>
<rect x="381" y="537.1" width="1" height="11.1" fill="#d4564f"/>
<rect x="382" y="551.0" width="1" height="92.0" fill="#d4564f" fill-opacity="0.8"/>
<rect x="382" y="548.2" width="1" height="40.8" fill="#d4564f"/>
<rect x="383" y="574.5" width="1" height="60.3" fill="#d4564f" fill-opacity="0.8"/>
<rect x="383" y="589.1" width="1" height="36.9" fill="#d4564f"/>
<rect x="384" y="584.0" width="1" height="38.9" fill="#d4564f" fill-opacity="0.8"/>
<rect x="384" y="622.9" width="1" height="3.0" fill="#d4564f"/>
<rect x="385" y="590.5" width="1" height="24.3" fill="#2b9783" fill-opacity="0.8"/>
<rect x="385" y="614.8" width="1" height="8.1" fill="#2b9783"/>
<rect x="386" y="590.6" width="1" height="19.9" fill="#2b9783" fill-opacity="0.8"/>
<rect x="386" y="605.9" width="1" height="8.9" fill="#2b9783"/>
<rect x="387" y="594.8" width="1" height="16.3" fill="#2b9783" fill-opacity="0.8"/>
<rect x="387" y="605.9" width="1" height="5.2" fill="#2b9783"/>
<rect x="388" y="598.0" width="1" height="15.0" fill="#d4564f" fill-opacity="0.8"/>
<rect x="388" y="606.2" width="1" height="4.9" fill="#d4564f"/>
<rect x="389" y="600.5" width="1" height="16.7" fill="#d4564f" fill-opacity="0.8"/>
<rect x="389" y="606.2" width="1" height="9.5" fill="#d4564f"/>
<rect x="390" y="605.5" width="1" height="20.0" fill="#d4564f" fill-opacity="0.8"/>
<rect x="390" y="615.7" width="1" height="9.8" fill="#d4564f"/>
<rect x="391" y="610.0" width="1" height="23.0" fill="#d4564f" fill-opacity="0.8"/>
<rect x="391" y="625.5" width="1" height="4.0" fill="#d4564f"/>
<rect x="392" y="614.0" width="1" height="16.9" fill="#d4564f" fill-opacity="0.8"/>
<rect x="392" y="628.8" width="1" height="2.9" fill="#d4564f"/>
<rect x="393" y="617.2" width="1" height="18.4" fill="#d4564f" fill-opacity="0.8"/>
<rect x="393" y="625.4" width="1" height="5.6" fill="#d4564f"/>
<rect x="394" y="623.4" width="1" height="24.6" fill="#d4564f" fill-opacity="0.8"/>
<rect x="394" y="625.4" width="1" height="12.6" fill="#d4564f"/>
<rect x="395" y="630.1" width="1" height="14.7" fill="#d4564f" fill-opacity="0.8"/>
<rect x="395" y="638.0" width="1" height="6.8" fill="#d4564f"/>
<rect x="396" y="630.0" width="1" height="18.0" fill="#d4564f" fill-opacity="0.8"/>
<rect x="396" y="644.8" width="1" height="2.3" fill="#d4564f"/>
<rect x="397" y="637.8" width="1" height="20.2" fill="#d4564f" fill-opacity="0.8"/>
<rect x="397" y="647.1" width="1" height="5.5" fill="#d4564f"/>
<rect x="398" y="643.0" width="1" height="25.0" fill="#d4564f" fill-opacity="0.8"/>
<rect x="398" y="652.6" width="1" height="7.4" fill="#d4564f"/>
<rect x="399" y="649.0" width="1" height="41.0" fill="#d4564f" fill-opacity="0.8"/>
<rect x="399" y="650.2" width="1" height="9.8" fill="#d4564f"/>
<rect x="400" y="656.1" width="1" height="24.9" fill="#d4564f" fill-opacity="0.8"/>
<rect x="400" y="650.2" width="1" height="6.3" fill="#d4564f"/>
<rect x="401" y="652.0" width="1" height="21.7" fill="#2b9783" fill-opacity="0.8"/>
<rect x="401" y="656.5" width="1" height="14.5" fill="#2b9783"/>
<rect x="402" y="637.0" width="1" height="22.0" fill="#2b9783" fill-opacity="0.8"/>
<rect x="402" y="659.0" width="1" height="12.0" fill="#2b9783"/>
<rect x="403" y="638.7" width="1" height="15.6" fill="#2b9783" fill-opacity="0.8"/>
<rect x="403" y="645.7" width="1" height="13.3" fill="#2b9783"/>
<rect x="404" y="624.0" width="1" height="28.0" fill="#d4564f" fill-opacity="0.8"/>
<rect x="404" y="645.0" width="1" height="1.8" fill="#d4564f"/>
<rect x="405" y="628.4" width="1" height="18.0" fill="#d4564f" fill-opacity="0.8"/>
<rect x="405" y="638.5" width="1" height="7.5" fill="#d4564f"/>
<rect x="406" y="633.0" width="1" height="26.0" fill="#d4564f" fill-opacity="0.8"/>
<rect x="406" y="638.5" width="1" height="19.2" fill="#d4564f"/>
<rect x="407" y="644.0" width="1" height="19.0" fill="#d4564f" fill-opacity="0.8"/>
<rect x="407" y="657.6" width="1" height="5.4" fill="#d4564f"/>
<rect x="408" y="649.0" width="1" height="16.0" fill="#2b9783" fill-opacity="0.8"/>
<rect x="408" y="659.6" width="1" height="3.4" fill="#2b9783"/>
<rect x="409" y="646.0" width="1" height="16.2" fill="#d4564f" fill-opacity="0.8"/>
<rect x="409" y="659.6" width="1" height="2.6" fill="#d4564f"/>
<rect x="410" y="652.7" width="1" height="4.6" fill="#2b9783" fill-opacity="0.8"/>
<rect x="410" y="656.1" width="1" height="6.0" fill="#2b9783"/>
<rect x="411" y="637.0" width="1" height="15.0" fill="#2b9783" fill-opacity="0.8"/>
<rect x="411" y="652.0" width="1" height="4.1" fill="#2b9783"/>
<rect x="412" y="645.5" width="1" height="11.7" fill="#d4564f" fill-opacity="0.8"/>
<rect x="412" y="652.0" width="1" height="5.2" fill="#d4564f"/>
<rect x="413" y="642.7" width="1" height="20.3" fill="#2b9783" fill-opacity="0.8"/>
<rect x="413" y="642.7" width="1" height="14.5" fill="#2b9783"/>
<rect x="414" y="636.7" width="1" height="14.4" fill="#2b9783" fill-opacity="0.8"/>
<rect x="414" y="636.7" width="1" height="6.0" fill="#2b9783"/>
<rect x="415" y="629.0" width="1" height="16.0" fill="#2b9783" fill-opacity="0.8"/>
<rect x="415" y="629.7" width="1" height="7.0" fill="#2b9783"/>
<rect x="416" y="611.0" width="1" height="24.8" fill="#2b9783" fill-opacity="0.8"/>
<rect x="416" y="616.8" width="1" height="12.9" fill="#2b9783"/>
<rect x="417" y="616.7" width="1" height="12.2" fill="#2b9783" fill-opacity="0.8"/>
<rect x="417" y="616.0" width="1" height="1.5" fill="#2b9783"/>
<rect x="418" y="624.9" width="1" height="24.1" fill="#d4564f" fill-opacity="0.8"/>
<rect x="418" y="616.7" width="1" height="8.2" fill="#d4564f"/>
<rect x="419" y="631.6" width="1" height="17.5" fill="#d4564f" fill-opacity="0.8"/>
<rect x="419" y="624.9" width="1" height="18.8" fill="#d4564f"/>
<rect x="420" y="637.6" width="1" height="14.4" fill="#2b9783" fill-opacity="0.8"/>
<rect x="420" y="643.7" width="1" height="7.9" fill="#2b9783"/>
<rect x="421" y="626.0" width="1" height="15.0" fill="#2b9783" fill-opacity="0.8"/>
<rect x="421" y="633.3" width="1" height="18.3" fill="#2b9783"/>
<rect x="422" y="614.0" width="1" height="16.7" fill="#2b9783" fill-opacity="0.8"/>
<rect x="422" y="624.4" width="1" height="8.9" fill="#2b9783"/>
<rect x="423" y="621.5" width="1" height="12.5" fill="#d4564f" fill-opacity="0.8"/>
<rect x="423" y="624.4" width="1" height="9.6" fill="#d4564f"/>
<rect x="424" y="629.0" width="1" height="9.0" fill="#d4564f" fill-opacity="0.8"/>
<rect x="424" y="634.0" width="1" height="3.3" fill="#d4564f"/>
<rect x="425" y="625.2" width="1" height="11.1" fill="#2b9783" fill-opacity="0.8"/>
<rect x="425" y="625.2" width="1" height="12.2" fill="#2b9783"/>
<rect x="426" y="618.0" width="1" height="16.1" fill="#2b9783" fill-opacity="0.8"/>
<rect x="426" y="625.2" width="1" height="5.2" fill="#2b9783"/>
<rect x="427" y="616.3" width="1" height="14.4" fill="#2b9783" fill-opacity="0.8"/>
<rect x="427" y="624.7" width="1" height="5.7" fill="#2b9783"/>
<rect x="428" y="613.0" width="1" height="13.1" fill="#2b9783" fill-opacity="0.8"/>
<rect x="428" y="619.8" width="1" height="4.9" fill="#2b9783"/>
<rect x="429" y="610.0" width="1" height="12.9" fill="#d4564f" fill-opacity="0.8"/>
<rect x="429" y="619.8" width="1" height="3.2" fill="#d4564f"/>
<rect x="430" y="618.3" width="1" height="18.7" fill="#d4564f" fill-opacity="0.8"/>
<rect x="430" y="622.9" width="1" height="5.7" fill="#d4564f"/>
<rect x="431" y="626.1" width="1" height="16.2" fill="#d4564f" fill-opacity="0.8"/>
<rect x="431" y="628.6" width="1" height="12.1" fill="#d4564f"/>
<rect x="432" y="634.2" width="1" height="19.8" fill="#d4564f" fill-opacity="0.8"/>
<rect x="432" y="640.8" width="1" height="9.7" fill="#d4564f"/>
<rect x="433" y="644.7" width="1" height="13.4" fill="#d4564f" fill-opacity="0.8"/>
<rect x="433" y="650.4" width="1" height="5.6" fill="#d4564f"/>
<rect x="434" y="646.8" width="1" height="18.2" fill="#d4564f" fill-opacity="0.8"/>
<rect x="434" y="656.0" width="1" height="6.7" fill="#d4564f"/>
<rect x="435" y="658.7" width="1" height="7.6" fill="#d4564f" fill-opacity="0.8"/>
<rect x="435" y="662.7" width="1" height="3.5" fill="#d4564f"/>
<rect x="436" y="655.3" width="1" height="13.5" fill="#2b9783" fill-opacity="0.8"/>
<rect x="436" y="658.6" width="1" height="7.7" fill="#2b9783"/>
<rect x="437" y="659.0" width="1" height="12.0" fill="#d4564f" fill-opacity="0.8"/>
<rect x="437" y="657.8" width="1" height="2.7" fill="#d4564f"/>
<rect x="438" y="659.5" width="1" height="6.0" fill="#2b9783" fill-opacity="0.8"/>
<rect x="438" y="658.7" width="1" height="1.8" fill="#2b9783"/>
<rect x="439" y="659.9" width="1" height="8.3" fill="#d4564f" fill-opacity="0.8"/>
<rect x="439" y="659.5" width="1" height="8.8" fill="#d4564f"/>
<rect x="440" y="662.5" width="1" height="2.7" fill="#2b9783" fill-opacity="0.8"/>
<rect x="440" y="665.2" width="1" height="3.0" fill="#2b9783"/>
<rect x="441" y="653.0" width="1" height="8.8" fill="#2b9783" fill-opacity="0.8"/>
<rect x="441" y="653.0" width="1" height="12.3" fill="#2b9783"/>
<rect x="442" y="648.4" width="1" height="11.6" fill="#2b9783" fill-opacity="0.8"/>
<rect x="442" y="652.2" width="1" height="2.7" fill="#2b9783"/>
<rect x="443" y="643.2" width="1" height="16.2" fill="#2b9783" fill-opacity="0.8"/>
<rect x="443" y="646.4" width="1" height="7.7" fill="#2b9783"/>
<rect x="444" y="638.0" width="1" height="21.0" fill="#2b9783" fill-opacity="0.8"/>
<rect x="444" y="644.1" width="1" height="2.3" fill="#2b9783"/>
<rect x="445" y="645.5" width="1" height="17.2" fill="#d4564f" fill-opacity="0.8"/>
<rect x="445" y="644.1" width="1" height="8.2" fill="#d4564f"/>
<rect x="446" y="653.0" width="1" height="15.0" fill="#d4564f" fill-opacity="0.8"/>
<rect x="446" y="651.5" width="1" height="2.2" fill="#d4564f"/>
<rect x="447" y="655.4" width="1" height="9.1" fill="#d4564f" fill-opacity="0.8"/>
<rect x="447" y="653.0" width="1" height="8.3" fill="#d4564f"/>
<rect x="448" y="654.0" width="1" height="11.1" fill="#2b9783" fill-opacity="0.8"/>
<rect x="448" y="654.5" width="1" height="6.9" fill="#2b9783"/>
<rect x="449" y="653.4" width="1" height="10.4" fill="#d4564f" fill-opacity="0.8"/>
<rect x="449" y="653.7" width="1" height="1.9" fill="#d4564f"/>
<rect x="450" y="652.3" width="1" height="11.0" fill="#d4564f" fill-opacity="0.8"/>
<rect x="450" y="654.8" width="1" height="5.7" fill="#d4564f"/>
<rect x="451" y="651.0" width="1" height="11.1" fill="#2b9783" fill-opacity="0.8"/>
<rect x="451" y="658.0" width="1" height="2.5" fill="#2b9783"/>
<rect x="452" y="652.9" width="1" height="9.1" fill="#2b9783" fill-opacity="0.8"/>
<rect x="452" y="652.9" width="1" height="5.1" fill="#2b9783"/>
<rect x="453" y="655.0" width="1" height="3.3" fill="#d4564f" fill-opacity="0.8"/>
<rect x="453" y="652.9" width="1" height="2.1" fill="#d4564f"/>
<rect x="454" y="656.0" width="1" height="6.0" fill="#d4564f" fill-opacity="0.8"/>
<rect x="454" y="655.0" width="1" height="4.7" fill="#d4564f"/>
<rect x="455" y="656.0" width="1" height="6.0" fill="#2b9783" fill-opacity="0.8"/>
<rect x="455" y="656.0" width="1" height="3.7" fill="#2b9783"/>
<rect x="456" y="656.0" width="1" height="6.0" fill="#d4564f" fill-opacity="0.8"/>
<rect x="456" y="655.2" width="1" height="1.8" fill="#d4564f"/>
<rect x="457" y="658.9" width="1" height="6.0" fill="#d4564f" fill-opacity="0.8"/>
<rect x="457" y="656.3" width="1" height="4.4" fill="#d4564f"/>
<rect x="458" y="661.5" width="1" height="9.5" fill="#d4564f" fill-opacity="0.8"/>
<rect x="458" y="660.7" width="1" height="3.3" fill="#d4564f"/>
<rect x="459" y="663.7" width="1" height="5.0" fill="#d4564f" fill-opacity="0.8"/>
<rect x="459" y="663.3" width="1" height="2.8" fill="#d4564f"/>
<rect x="460" y="665.9" width="1" height="9.1" fill="#d4564f" fill-opacity="0.8"/>
<rect x="460" y="664.6" width="1" height="2.1" fill="#d4564f"/>
<rect x="461" y="668.2" width="1" height="8.6" fill="#d4564f" fill-opacity="0.8"/>
<rect x="461" y="665.9" width="1" height="5.7" fill="#d4564f"/>
<rect x="462" y="670.6" width="1" height="7.9" fill="#2b9783" fill-opacity="0.8"/>
<rect x="462" y="670.3" width="1" height="2.1" fill="#2b9783"/>
<rect x="463" y="673.0" width="1" height="11.0" fill="#d4564f" fill-opacity="0.8"/>
<rect x="463" y="671.0" width="1" height="3.5" fill="#d4564f"/>
<rect x="464" y="668.0" width="1" height="11.0" fill="#2b9783" fill-opacity="0.8"/>
<rect x="464" y="669.7" width="1" height="4.8" fill="#2b9783"/>
<rect x="465" y="665.6" width="1" height="10.0" fill="#2b9783" fill-opacity="0.8"/>
<rect x="465" y="666.9" width="1" height="2.8" fill="#2b9783"/>
<rect x="466" y="663.9" width="1" height="8.5" fill="#2b9783" fill-opacity="0.8"/>
<rect x="466" y="666.9" width="1" height="3.9" fill="#2b9783"/>
<rect x="467" y="656.0" width="1" height="12.0" fill="#2b9783" fill-opacity="0.8"/>
<rect x="467" y="667.8" width="1" height="2.9" fill="#2b9783"/>
<rect x="468" y="657.5" width="1" height="9.3" fill="#2b9783" fill-opacity="0.8"/>
<rect x="468" y="660.6" width="1" height="7.2" fill="#2b9783"/>
<rect x="469" y="656.0" width="1" height="9.6" fill="#2b9783" fill-opacity="0.8"/>
<rect x="469" y="659.3" width="1" height="2.0" fill="#2b9783"/>
<rect x="470" y="649.6" width="1" height="16.5" fill="#d4564f" fill-opacity="0.8"/>
<rect x="470" y="658.2" width="1" height="2.7" fill="#d4564f"/>
<rect x="471" y="638.0" width="1" height="39.9" fill="#d4564f" fill-opacity="0.8"/>
<rect x="471" y="649.8" width="1" height="9.2" fill="#d4564f"/>
<rect x="472" y="660.9" width="1" height="126.1" fill="#d4564f" fill-opacity="0.8"/>
<rect x="472" y="649.8" width="1" height="97.2" fill="#d4564f"/>
<rect x="473" y="732.0" width="1" height="53.0" fill="#d4564f" fill-opacity="0.8"/>
<rect x="473" y="747.0" width="1" height="37.8" fill="#d4564f"/>
<rect x="474" y="760.0" width="1" height="22.2" fill="#d4564f" fill-opacity="0.8"/>
<rect x="474" y="782.2" width="1" height="2.5" fill="#d4564f"/>
<rect x="475" y="775.8" width="1" height="7.0" fill="#d4564f" fill-opacity="0.8"/>
<rect x="475" y="781.5" width="1" height="2.1" fill="#d4564f"/>
<rect x="476" y="774.0" width="1" height="12.4" fill="#d4564f" fill-opacity="0.8"/>
<rect x="476" y="782.8" width="1" height="3.6" fill="#d4564f"/>
<rect x="477" y="764.0" width="1" height="26.9" fill="#d4564f" fill-opacity="0.8"/>
<rect x="477" y="784.9" width="1" height="1.6" fill="#d4564f"/>
<rect x="478" y="772.0" width="1" height="25.0" fill="#d4564f" fill-opacity="0.8"/>
<rect x="478" y="784.9" width="1" height="8.3" fill="#d4564f"/>
<rect x="479" y="777.0" width="1" height="25.0" fill="#2b9783" fill-opacity="0.8"/>
<rect x="479" y="793.1" width="1" height="5.9" fill="#2b9783"/>
<rect x="480" y="762.0" width="1" height="22.4" fill="#2b9783" fill-opacity="0.8"/>
<rect x="480" y="784.4" width="1" height="14.7" fill="#2b9783"/>
<rect x="481" y="766.5" width="1" height="10.9" fill="#2b9783" fill-opacity="0.8"/>
<rect x="481" y="777.4" width="1" height="7.0" fill="#2b9783"/>
<rect x="482" y="765.6" width="1" height="12.6" fill="#2b9783" fill-opacity="0.8"/>
<rect x="482" y="765.8" width="1" height="11.6" fill="#2b9783"/>
<rect x="483" y="768.0" width="1" height="11.0" fill="#d4564f" fill-opacity="0.8"/>
<rect x="483" y="765.8" width="1" height="2.2" fill="#d4564f"/>
<rect x="484" y="768.0" width="1" height="7.7" fill="#d4564f" fill-opacity="0.8"/>
<rect x="484" y="768.0" width="1" height="1.9" fill="#d4564f"/>
<rect x="485" y="768.0" width="1" height="9.0" fill="#2b9783" fill-opacity="0.8"/>
<rect x="485" y="768.0" width="1" height="1.9" fill="#2b9783"/>
<rect x="486" y="768.0" width="1" height="2.3" fill="#d4564f" fill-opacity="0.8"/>
<rect x="486" y="767.2" width="1" height="1.5" fill="#d4564f"/>
<rect x="487" y="768.0" width="1" height="11.0" fill="#d4564f" fill-opacity="0.8"/>
<rect x="487" y="768.0" width="1" height="2.0" fill="#d4564f"/>
<rect x="488" y="766.5" width="1" height="11.8" fill="#2b9783" fill-opacity="0.8"/>
<rect x="488" y="766.5" width="1" height="3.5" fill="#2b9783"/>
<rect x="489" y="764.0" width="1" height="17.0" fill="#d4564f" fill-opacity="0.8"/>
<rect x="489" y="764.7" width="1" height="1.8" fill="#d4564f"/>
<rect x="490" y="768.9" width="1" height="15.1" fill="#d4564f" fill-opacity="0.8"/>
<rect x="490" y="764.7" width="1" height="11.5" fill="#d4564f"/>
<rect x="491" y="777.0" width="1" height="12.0" fill="#d4564f" fill-opacity="0.8"/>
<rect x="491" y="776.2" width="1" height="12.8" fill="#d4564f"/>
<rect x="492" y="786.5" width="1" height="5.8" fill="#d4564f" fill-opacity="0.8"/>
<rect x="492" y="789.0" width="1" height="3.3" fill="#d4564f"/>
<rect x="493" y="785.0" width="1" height="11.0" fill="#d4564f" fill-opacity="0.8"/>
<rect x="493" y="792.3" width="1" height="3.3" fill="#d4564f"/>
<rect x="494" y="788.8" width="1" height="11.3" fill="#d4564f" fill-opacity="0.8"/>
<rect x="494" y="794.9" width="1" height="2.4" fill="#d4564f"/>
<rect x="495" y="792.3" width="1" height="13.7" fill="#d4564f" fill-opacity="0.8"/>
<rect x="495" y="796.6" width="1" height="7.4" fill="#d4564f"/>
<rect x="496" y="799.5" width="1" height="23.9" fill="#d4564f" fill-opacity="0.8"/>
<rect x="496" y="804.0" width="1" height="10.6" fill="#d4564f"/>
<rect x="497" y="806.0" width="1" height="36.0" fill="#d4564f" fill-opacity="0.8"/>
<rect x="497" y="814.6" width="1" height="11.6" fill="#d4564f"/>
<rect x="498" y="805.5" width="1" height="17.5" fill="#2b9783" fill-opacity="0.8"/>
<rect x="498" y="805.5" width="1" height="20.7" fill="#2b9783"/>
<rect x="499" y="784.2" width="1" height="34.8" fill="#2b9783" fill-opacity="0.8"/>
<rect x="499" y="784.2" width="1" height="21.3" fill="#2b9783"/>
<rect x="500" y="776.1" width="1" height="22.3" fill="#2b9783" fill-opacity="0.8"/>
<rect x="500" y="776.1" width="1" height="8.1" fill="#2b9783"/>
<rect x="501" y="768.0" width="1" height="13.0" fill="#2b9783" fill-opacity="0.8"/>
<rect x="501" y="768.0" width="1" height="8.1" fill="#2b9783"/>
<rect x="502" y="743.0" width="1" height="26.7" fill="#2b9783" fill-opacity="0.8"/>
<rect x="502" y="752.0" width="1" height="16.0" fill="#2b9783"/>
<rect x="503" y="739.6" width="1" height="19.8" fill="#2b9783" fill-opacity="0.8"/>
<rect x="503" y="739.6" width="1" height="12.4" fill="#2b9783"/>
<rect x="504" y="732.0" width="1" height="17.0" fill="#2b9783" fill-opacity="0.8"/>
<rect x="504" y="734.2" width="1" height="5.3" fill="#2b9783"/>
<rect x="505" y="708.7" width="1" height="24.9" fill="#2b9783" fill-opacity="0.8"/>
<rect x="505" y="716.8" width="1" height="17.4" fill="#2b9783"/>
<rect x="506" y="688.0" width="1" height="32.0" fill="#2b9783" fill-opacity="0.8"/>
<rect x="506" y="705.1" width="1" height="11.7" fill="#2b9783"/>
<rect x="507" y="690.6" width="1" height="20.8" fill="#2b9783" fill-opacity="0.8"/>
<rect x="507" y="705.1" width="1" height="1.9" fill="#2b9783"/>
<rect x="508" y="688.0" width="1" height="17.2" fill="#2b9783" fill-opacity="0.8"/>
<rect x="508" y="704.5" width="1" height="2.5" fill="#2b9783"/>
<rect x="509" y="691.2" width="1" height="15.5" fill="#d4564f" fill-opacity="0.8"/>
<rect x="509" y="704.5" width="1" height="2.2" fill="#d4564f"/>
<rect x="510" y="692.0" width="1" height="17.0" fill="#d4564f" fill-opacity="0.8"/>
<rect x="510" y="705.9" width="1" height="1.6" fill="#d4564f"/>
<rect x="511" y="696.3" width="1" height="12.3" fill="#2b9783" fill-opacity="0.8"/>
<rect x="511" y="705.0" width="1" height="1.7" fill="#2b9783"/>
<rect x="512" y="692.2" width="1" height="15.6" fill="#2b9783" fill-opacity="0.8"/>
<rect x="512" y="697.1" width="1" height="8.0" fill="#2b9783"/>
<rect x="513" y="688.0" width="1" height="19.0" fill="#d4564f" fill-opacity="0.8"/>
<rect x="513" y="696.3" width="1" height="2.5" fill="#d4564f"/>
<rect x="514" y="690.2" width="1" height="17.5" fill="#d4564f" fill-opacity="0.8"/>
<rect x="514" y="697.3" width="1" height="2.8" fill="#d4564f"/>
<rect x="515" y="692.4" width="1" height="14.7" fill="#d4564f" fill-opacity="0.8"/>
<rect x="515" y="692.4" width="1" height="6.9" fill="#d4564f"/>
<rect x="516" y="694.0" width="1" height="15.0" fill="#d4564f" fill-opacity="0.8"/>
<rect x="516" y="692.4" width="1" height="6.5" fill="#d4564f"/>
<rect x="517" y="701.0" width="1" height="5.1" fill="#d4564f" fill-opacity="0.8"/>
<rect x="517" y="698.9" width="1" height="2.0" fill="#d4564f"/>
<rect x="518" y="706.3" width="1" height="17.7" fill="#d4564f" fill-opacity="0.8"/>
<rect x="518" y="701.0" width="1" height="7.4" fill="#d4564f"/>
<rect x="519" y="706.4" width="1" height="14.6" fill="#d4564f" fill-opacity="0.8"/>
<rect x="519" y="707.7" width="1" height="1.5" fill="#d4564f"/>
<rect x="520" y="701.2" width="1" height="13.9" fill="#2b9783" fill-opacity="0.8"/>
<rect x="520" y="704.1" width="1" height="4.4" fill="#2b9783"/>
<rect x="521" y="696.0" width="1" height="17.0" fill="#2b9783" fill-opacity="0.8"/>
<rect x="521" y="696.0" width="1" height="8.1" fill="#2b9783"/>
<rect x="522" y="692.0" width="1" height="13.0" fill="#2b9783" fill-opacity="0.8"/>
<rect x="522" y="692.0" width="1" height="4.0" fill="#2b9783"/>
<rect x="523" y="688.0" width="1" height="16.2" fill="#2b9783" fill-opacity="0.8"/>
<rect x="523" y="688.0" width="1" height="4.0" fill="#2b9783"/>
<rect x="524" y="686.0" width="1" height="20.1" fill="#d4564f" fill-opacity="0.8"/>
<rect x="524" y="688.0" width="1" height="8.0" fill="#d4564f"/>
<rect x="525" y="694.0" width="1" height="11.1" fill="#d4564f" fill-opacity="0.8"/>
<rect x="525" y="694.1" width="1" height="1.8" fill="#d4564f"/>
<rect x="526" y="699.4" width="1" height="13.6" fill="#d4564f" fill-opacity="0.8"/>
<rect x="526" y="694.1" width="1" height="18.0" fill="#d4564f"/>
<rect x="527" y="708.8" width="1" height="6.5" fill="#d4564f" fill-opacity="0.8"/>
<rect x="527" y="712.1" width="1" height="3.2" fill="#d4564f"/>
<rect x="528" y="712.6" width="1" height="6.1" fill="#d4564f" fill-opacity="0.8"/>
<rect x="528" y="714.6" width="1" height="1.9" fill="#d4564f"/>
<rect x="529" y="709.0" width="1" height="13.0" fill="#d4564f" fill-opacity="0.8"/>
<rect x="529" y="715.8" width="1" height="5.7" fill="#d4564f"/>
<rect x="530" y="716.2" width="1" height="17.4" fill="#d4564f" fill-opacity="0.8"/>
<rect x="530" y="721.5" width="1" height="3.9" fill="#d4564f"/>
<rect x="531" y="714.6" width="1" height="30.6" fill="#d4564f" fill-opacity="0.8"/>
<rect x="531" y="714.6" width="1" height="10.8" fill="#d4564f"/>
<rect x="532" y="715.5" width="1" height="35.5" fill="#d4564f" fill-opacity="0.8"/>
<rect x="532" y="714.6" width="1" height="7.7" fill="#d4564f"/>
<rect x="533" y="714.6" width="1" height="13.8" fill="#2b9783" fill-opacity="0.8"/>
<rect x="533" y="717.9" width="1" height="4.4" fill="#2b9783"/>
<rect x="534" y="713.3" width="1" height="17.7" fill="#2b9783" fill-opacity="0.8"/>
<rect x="534" y="716.3" width="1" height="2.3" fill="#2b9783"/>
<rect x="535" y="708.0" width="1" height="16.5" fill="#2b9783" fill-opacity="0.8"/>
<rect x="535" y="716.1" width="1" height="1.8" fill="#2b9783"/>
<rect x="536" y="702.0" width="1" height="17.5" fill="#d4564f" fill-opacity="0.8"/>
<rect x="536" y="716.1" width="1" height="1.8" fill="#d4564f"/>
<rect x="537" y="704.6" width="1" height="13.8" fill="#2b9783" fill-opacity="0.8"/>
<rect x="537" y="706.9" width="1" height="10.1" fill="#2b9783"/>
<rect x="538" y="708.0" width="1" height="11.0" fill="#d4564f" fill-opacity="0.8"/>
<rect x="538" y="706.9" width="1" height="5.0" fill="#d4564f"/>
<rect x="539" y="710.5" width="1" height="11.4" fill="#d4564f" fill-opacity="0.8"/>
<rect x="539" y="712.0" width="1" height="7.5" fill="#d4564f"/>
<rect x="540" y="712.8" width="1" height="13.2" fill="#2b9783" fill-opacity="0.8"/>
<rect x="540" y="717.4" width="1" height="2.9" fill="#2b9783"/>
<rect x="541" y="714.4" width="1" height="11.0" fill="#d4564f" fill-opacity="0.8"/>
<rect x="541" y="718.1" width="1" height="4.9" fill="#d4564f"/>
<rect x="542" y="718.6" width="1" height="5.6" fill="#d4564f" fill-opacity="0.8"/>
<rect x="542" y="722.2" width="1" height="2.7" fill="#d4564f"/>
<rect x="543" y="716.0" width="1" height="7.0" fill="#2b9783" fill-opacity="0.8"/>
<rect x="543" y="722.2" width="1" height="2.7" fill="#2b9783"/>
<rect x="544" y="716.0" width="1" height="7.4" fill="#2b9783" fill-opacity="0.8"/>
<rect x="544" y="720.3" width="1" height="2.7" fill="#2b9783"/>
<rect x="545" y="717.4" width="1" height="4.5" fill="#2b9783" fill-opacity="0.8"/>
<rect x="545" y="719.1" width="1" height="2.0" fill="#2b9783"/>
<rect x="546" y="712.3" width="1" height="11.7" fill="#2b9783" fill-opacity="0.8"/>
<rect x="546" y="718.4" width="1" height="2.2" fill="#2b9783"/>
<rect x="547" y="710.6" width="1" height="5.9" fill="#2b9783" fill-opacity="0.8"/>
<rect x="547" y="716.5" width="1" height="2.7" fill="#2b9783"/>
<rect x="548" y="697.0" width="1" height="14.5" fill="#2b9783" fill-opacity="0.8"/>
<rect x="548" y="711.5" width="1" height="5.0" fill="#2b9783"/>
<rect x="549" y="697.9" width="1" height="9.4" fill="#2b9783" fill-opacity="0.8"/>
<rect x="549" y="702.5" width="1" height="9.0" fill="#2b9783"/>
<rect x="550" y="691.0" width="1" height="12.1" fill="#2b9783" fill-opacity="0.8"/>
<rect x="550" y="698.0" width="1" height="4.5" fill="#2b9783"/>
<rect x="551" y="694.6" width="1" height="11.1" fill="#2b9783" fill-opacity="0.8"/>
<rect x="551" y="698.0" width="1" height="6.2" fill="#2b9783"/>
<rect x="552" y="701.8" width="1" height="16.2" fill="#d4564f" fill-opacity="0.8"/>
<rect x="552" y="704.2" width="1" height="10.8" fill="#d4564f"/>
<rect x="553" y="705.1" width="1" height="13.2" fill="#d4564f" fill-opacity="0.8"/>
<rect x="553" y="707.3" width="1" height="7.7" fill="#d4564f"/>
<rect x="554" y="706.7" width="1" height="9.9" fill="#2b9783" fill-opacity="0.8"/>
<rect x="554" y="706.0" width="1" height="2.1" fill="#2b9783"/>
<rect x="555" y="707.4" width="1" height="11.6" fill="#d4564f" fill-opacity="0.8"/>
<rect x="555" y="706.7" width="1" height="8.5" fill="#d4564f"/>
<rect x="556" y="704.9" width="1" height="9.7" fill="#2b9783" fill-opacity="0.8"/>
<rect x="556" y="710.4" width="1" height="4.8" fill="#2b9783"/>
<rect x="557" y="701.0" width="1" height="10.0" fill="#d4564f" fill-opacity="0.8"/>
<rect x="557" y="709.7" width="1" height="2.1" fill="#d4564f"/>
<rect x="558" y="702.2" width="1" height="10.8" fill="#2b9783" fill-opacity="0.8"/>
<rect x="558" y="705.7" width="1" height="5.3" fill="#2b9783"/>
<rect x="559" y="703.4" width="1" height="10.6" fill="#d4564f" fill-opacity="0.8"/>
<rect x="559" y="705.7" width="1" height="3.5" fill="#d4564f"/>
<rect x="560" y="704.0" width="1" height="13.7" fill="#d4564f" fill-opacity="0.8"/>
<rect x="560" y="709.2" width="1" height="8.4" fill="#d4564f"/>
<rect x="561" y="710.3" width="1" height="10.7" fill="#d4564f" fill-opacity="0.8"/>
<rect x="561" y="717.7" width="1" height="3.3" fill="#d4564f"/>
<rect x="562" y="714.0" width="1" height="10.0" fill="#d4564f" fill-opacity="0.8"/>
<rect x="562" y="721.0" width="1" height="3.0" fill="#d4564f"/>
<rect x="563" y="720.7" width="1" height="2.8" fill="#2b9783" fill-opacity="0.8"/>
<rect x="563" y="722.8" width="1" height="2.0" fill="#2b9783"/>
<rect x="564" y="716.0" width="1" height="7.0" fill="#2b9783" fill-opacity="0.8"/>
<rect x="564" y="720.5" width="1" height="3.0" fill="#2b9783"/>
<rect x="565" y="717.9" width="1" height="5.5" fill="#2b9783" fill-opacity="0.8"/>
<rect x="565" y="717.9" width="1" height="2.6" fill="#2b9783"/>
<rect x="566" y="720.0" width="1" height="8.0" fill="#d4564f" fill-opacity="0.8"/>
<rect x="566" y="717.9" width="1" height="2.1" fill="#d4564f"/>
<rect x="567" y="721.9" width="1" height="5.0" fill="#d4564f" fill-opacity="0.8"/>
<rect x="567" y="720.0" width="1" height="2.2" fill="#d4564f"/>
<rect x="568" y="723.8" width="1" height="7.0" fill="#d4564f" fill-opacity="0.8"/>
<rect x="568" y="722.2" width="1" height="8.6" fill="#d4564f"/>
<rect x="569" y="725.6" width="1" height="7.4" fill="#d4564f" fill-opacity="0.8"/>
<rect x="569" y="730.8" width="1" height="1.9" fill="#d4564f"/>
<rect x="570" y="724.6" width="1" height="5.2" fill="#2b9783" fill-opacity="0.8"/>
<rect x="570" y="728.9" width="1" height="3.7" fill="#2b9783"/>
<rect x="571" y="718.8" width="1" height="7.0" fill="#2b9783" fill-opacity="0.8"/>
<rect x="571" y="720.8" width="1" height="8.1" fill="#2b9783"/>
<rect x="572" y="715.4" width="1" height="7.7" fill="#2b9783" fill-opacity="0.8"/>
<rect x="572" y="715.4" width="1" height="5.4" fill="#2b9783"/>
<rect x="573" y="713.5" width="1" height="8.9" fill="#d4564f" fill-opacity="0.8"/>
<rect x="573" y="715.4" width="1" height="4.1" fill="#d4564f"/>
<rect x="574" y="711.0" width="1" height="13.0" fill="#d4564f" fill-opacity="0.8"/>
<rect x="574" y="713.8" width="1" height="5.7" fill="#d4564f"/>
<rect x="575" y="718.0" width="1" height="7.9" fill="#d4564f" fill-opacity="0.8"/>
<rect x="575" y="713.8" width="1" height="4.2" fill="#d4564f"/>
<rect x="576" y="728.0" width="1" height="15.0" fill="#d4564f" fill-opacity="0.8"/>
<rect x="576" y="718.0" width="1" height="11.1" fill="#d4564f"/>
<rect x="577" y="736.1" width="1" height="18.2" fill="#d4564f" fill-opacity="0.8"/>
<rect x="577" y="729.1" width="1" height="7.0" fill="#d4564f"/>
<rect x="578" y="744.2" width="1" height="38.8" fill="#d4564f" fill-opacity="0.8"/>
<rect x="578" y="736.1" width="1" height="8.1" fill="#d4564f"/>
<rect x="579" y="750.3" width="1" height="10.0" fill="#d4564f" fill-opacity="0.8"/>
<rect x="579" y="744.2" width="1" height="6.1" fill="#d4564f"/>
<rect x="580" y="754.3" width="1" height="13.7" fill="#2b9783" fill-opacity="0.8"/>
<rect x="580" y="750.3" width="1" height="4.0" fill="#2b9783"/>
<rect x="581" y="751.0" width="1" height="7.4" fill="#2b9783" fill-opacity="0.8"/>
<rect x="581" y="751.0" width="1" height="3.3" fill="#2b9783"/>
<rect x="582" y="747.7" width="1" height="10.3" fill="#2b9783" fill-opacity="0.8"/>
<rect x="582" y="747.7" width="1" height="3.3" fill="#2b9783"/>
<rect x="583" y="745.0" width="1" height="6.2" fill="#2b9783" fill-opacity="0.8"/>
<rect x="583" y="747.0" width="1" height="2.0" fill="#2b9783"/>
<rect x="584" y="741.0" width="1" height="10.5" fill="#2b9783" fill-opacity="0.8"/>
<rect x="584" y="742.3" width="1" height="5.8" fill="#2b9783"/>
<rect x="585" y="741.5" width="1" height="3.1" fill="#2b9783" fill-opacity="0.8"/>
<rect x="585" y="740.8" width="1" height="2.3" fill="#2b9783"/>
<rect x="586" y="742.5" width="1" height="13.5" fill="#2b9783" fill-opacity="0.8"/>
<rect x="586" y="740.8" width="1" height="2.5" fill="#2b9783"/>
<rect x="587" y="738.2" width="1" height="11.8" fill="#2b9783" fill-opacity="0.8"/>
<rect x="587" y="738.2" width="1" height="4.2" fill="#2b9783"/>
<rect x="588" y="724.0" width="1" height="18.5" fill="#2b9783" fill-opacity="0.8"/>
<rect x="588" y="728.8" width="1" height="9.5" fill="#2b9783"/>
<rect x="589" y="721.6" width="1" height="12.9" fill="#2b9783" fill-opacity="0.8"/>
<rect x="589" y="721.6" width="1" height="7.2" fill="#2b9783"/>
<rect x="590" y="716.8" width="1" height="10.7" fill="#2b9783" fill-opacity="0.8"/>
<rect x="590" y="716.8" width="1" height="4.8" fill="#2b9783"/>
<rect x="591" y="711.0" width="1" height="9.4" fill="#2b9783" fill-opacity="0.8"/>
<rect x="591" y="716.0" width="1" height="2.8" fill="#2b9783"/>
<rect x="592" y="714.1" width="1" height="3.4" fill="#2b9783" fill-opacity="0.8"/>
<rect x="592" y="716.8" width="1" height="2.0" fill="#2b9783"/>
<rect x="593" y="708.0" width="1" height="8.0" fill="#2b9783" fill-opacity="0.8"/>
<rect x="593" y="714.6" width="1" height="3.0" fill="#2b9783"/>
<rect x="594" y="662.0" width="1" height="38.9" fill="#2b9783" fill-opacity="0.8"/>
<rect x="594" y="700.9" width="1" height="13.7" fill="#2b9783"/>
<rect x="595" y="681.7" width="1" height="11.8" fill="#2b9783" fill-opacity="0.8"/>
<rect x="595" y="692.6" width="1" height="8.3" fill="#2b9783"/>
<rect x="596" y="682.0" width="1" height="10.2" fill="#2b9783" fill-opacity="0.8"/>
<rect x="596" y="691.5" width="1" height="1.9" fill="#2b9783"/>
<rect x="597" y="688.6" width="1" height="6.6" fill="#d4564f" fill-opacity="0.8"/>
<rect x="597" y="692.2" width="1" height="2.9" fill="#d4564f"/>
<rect x="598" y="687.5" width="1" height="13.5" fill="#d4564f" fill-opacity="0.8"/>
<rect x="598" y="694.3" width="1" height="1.6" fill="#d4564f"/>
<rect x="599" y="690.2" width="1" height="11.3" fill="#d4564f" fill-opacity="0.8"/>
<rect x="599" y="695.1" width="1" height="4.8" fill="#d4564f"/>
<rect x="600" y="693.8" width="1" height="8.8" fill="#d4564f" fill-opacity="0.8"/>
<rect x="600" y="699.8" width="1" height="2.7" fill="#d4564f"/>
<rect x="601" y="696.0" width="1" height="8.0" fill="#d4564f" fill-opacity="0.8"/>
<rect x="601" y="701.8" width="1" height="2.7" fill="#d4564f"/>
<rect x="602" y="701.2" width="1" height="4.2" fill="#2b9783" fill-opacity="0.8"/>
<rect x="602" y="702.7" width="1" height="1.8" fill="#2b9783"/>
<rect x="603" y="700.0" width="1" height="7.4" fill="#d4564f" fill-opacity="0.8"/>
<rect x="603" y="703.4" width="1" height="4.0" fill="#d4564f"/>
<rect x="604" y="701.0" width="1" height="8.2" fill="#d4564f" fill-opacity="0.8"/>
<rect x="604" y="706.7" width="1" height="2.3" fill="#d4564f"/>
<rect x="605" y="706.1" width="1" height="3.9" fill="#d4564f" fill-opacity="0.8"/>
<rect x="605" y="708.2" width="1" height="1.8" fill="#d4564f"/>
<rect x="606" y="706.0" width="1" height="5.0" fill="#d4564f" fill-opacity="0.8"/>
<rect x="606" y="709.2" width="1" height="1.5" fill="#d4564f"/>
<rect x="607" y="702.2" width="1" height="5.6" fill="#2b9783" fill-opacity="0.8"/>
<rect x="607" y="704.4" width="1" height="5.5" fill="#2b9783"/>
<rect x="608" y="694.0" width="1" height="9.3" fill="#2b9783" fill-opacity="0.8"/>
<rect x="608" y="696.7" width="1" height="7.7" fill="#2b9783"/>
<rect x="609" y="694.8" width="1" height="4.1" fill="#2b9783" fill-opacity="0.8"/>
<rect x="609" y="694.8" width="1" height="2.0" fill="#2b9783"/>
<rect x="610" y="696.2" width="1" height="14.8" fill="#d4564f" fill-opacity="0.8"/>
<rect x="610" y="694.8" width="1" height="8.7" fill="#d4564f"/>
<rect x="611" y="700.9" width="1" height="10.9" fill="#d4564f" fill-opacity="0.8"/>
<rect x="611" y="700.9" width="1" height="2.5" fill="#d4564f"/>
<rect x="612" y="708.7" width="1" height="15.3" fill="#d4564f" fill-opacity="0.8"/>
<rect x="612" y="700.9" width="1" height="9.8" fill="#d4564f"/>
<rect x="613" y="711.6" width="1" height="6.5" fill="#d4564f" fill-opacity="0.8"/>
<rect x="613" y="710.7" width="1" height="3.8" fill="#d4564f"/>
<rect x="614" y="712.4" width="1" height="13.0" fill="#d4564f" fill-opacity="0.8"/>
<rect x="614" y="714.4" width="1" height="4.9" fill="#d4564f"/>
<rect x="615" y="713.0" width="1" height="15.0" fill="#d4564f" fill-opacity="0.8"/>
<rect x="615" y="719.3" width="1" height="5.2" fill="#d4564f"/>
<rect x="616" y="714.7" width="1" height="12.4" fill="#d4564f" fill-opacity="0.8"/>
<rect x="616" y="723.7" width="1" height="1.6" fill="#d4564f"/>
<rect x="617" y="715.6" width="1" height="10.6" fill="#2b9783" fill-opacity="0.8"/>
<rect x="617" y="720.6" width="1" height="4.0" fill="#2b9783"/>
<rect x="618" y="717.3" width="1" height="9.7" fill="#d4564f" fill-opacity="0.8"/>
<rect x="618" y="720.6" width="1" height="6.5" fill="#d4564f"/>
<rect x="619" y="719.3" width="1" height="9.3" fill="#2b9783" fill-opacity="0.8"/>
<rect x="619" y="722.8" width="1" height="4.3" fill="#2b9783"/>
<rect x="620" y="721.0" width="1" height="9.0" fill="#d4564f" fill-opacity="0.8"/>
<rect x="620" y="722.8" width="1" height="1.7" fill="#d4564f"/>
<rect x="621" y="722.3" width="1" height="5.0" fill="#d4564f" fill-opacity="0.8"/>
<rect x="621" y="722.3" width="1" height="2.2" fill="#d4564f"/>
<rect x="622" y="723.5" width="1" height="11.5" fill="#d4564f" fill-opacity="0.8"/>
<rect x="622" y="721.6" width="1" height="2.7" fill="#d4564f"/>
<rect x="623" y="727.0" width="1" height="7.2" fill="#d4564f" fill-opacity="0.8"/>
<rect x="623" y="723.5" width="1" height="4.4" fill="#d4564f"/>
<rect x="624" y="730.5" width="1" height="12.5" fill="#d4564f" fill-opacity="0.8"/>
<rect x="624" y="727.9" width="1" height="4.7" fill="#d4564f"/>
<rect x="625" y="728.0" width="1" height="9.0" fill="#2b9783" fill-opacity="0.8"/>
<rect x="625" y="729.7" width="1" height="2.9" fill="#2b9783"/>
<rect x="626" y="725.6" width="1" height="7.4" fill="#2b9783" fill-opacity="0.8"/>
<rect x="626" y="728.4" width="1" height="2.0" fill="#2b9783"/>
<rect x="627" y="723.6" width="1" height="8.0" fill="#2b9783" fill-opacity="0.8"/>
<rect x="627" y="724.3" width="1" height="4.8" fill="#2b9783"/>
<rect x="628" y="721.0" width="1" height="9.4" fill="#d4564f" fill-opacity="0.8"/>
<rect x="628" y="724.3" width="1" height="4.5" fill="#d4564f"/>
<rect x="629" y="725.5" width="1" height="4.7" fill="#d4564f" fill-opacity="0.8"/>
<rect x="629" y="728.1" width="1" height="2.2" fill="#d4564f"/>
<rect x="630" y="724.4" width="1" height="6.3" fill="#2b9783" fill-opacity="0.8"/>
<rect x="630" y="726.1" width="1" height="3.4" fill="#2b9783"/>
<rect x="631" y="724.6" width="1" height="6.4" fill="#2b9783" fill-opacity="0.8"/>
<rect x="631" y="725.3" width="1" height="1.5" fill="#2b9783"/>
<rect x="632" y="718.4" width="1" height="8.6" fill="#2b9783" fill-opacity="0.8"/>
<rect x="632" y="723.2" width="1" height="2.9" fill="#2b9783"/>
<rect x="633" y="710.1" width="1" height="13.9" fill="#2b9783" fill-opacity="0.8"/>
<rect x="633" y="713.0" width="1" height="10.3" fill="#2b9783"/>
<rect x="634" y="696.0" width="1" height="17.0" fill="#2b9783" fill-opacity="0.8"/>
<rect x="634" y="700.7" width="1" height="12.3" fill="#2b9783"/>
<rect x="635" y="697.1" width="1" height="8.6" fill="#2b9783" fill-opacity="0.8"/>
<rect x="635" y="699.4" width="1" height="2.0" fill="#2b9783"/>
<rect x="636" y="699.3" width="1" height="8.2" fill="#2b9783" fill-opacity="0.8"/>
<rect x="636" y="698.5" width="1" height="2.4" fill="#2b9783"/>
<rect x="637" y="701.0" width="1" height="7.0" fill="#d4564f" fill-opacity="0.8"/>
<rect x="637" y="699.3" width="1" height="2.8" fill="#d4564f"/>
<rect x="638" y="704.4" width="1" height="5.2" fill="#d4564f" fill-opacity="0.8"/>
<rect x="638" y="702.0" width="1" height="2.3" fill="#d4564f"/>
<rect x="639" y="707.2" width="1" height="10.8" fill="#d4564f" fill-opacity="0.8"/>
<rect x="639" y="704.4" width="1" height="7.2" fill="#d4564f"/>
<rect x="640" y="703.5" width="1" height="10.8" fill="#2b9783" fill-opacity="0.8"/>
<rect x="640" y="706.8" width="1" height="4.8" fill="#2b9783"/>
<rect x="641" y="697.0" width="1" height="14.0" fill="#2b9783" fill-opacity="0.8"/>
<rect x="641" y="697.0" width="1" height="9.8" fill="#2b9783"/>
<rect x="642" y="688.2" width="1" height="14.6" fill="#2b9783" fill-opacity="0.8"/>
<rect x="642" y="695.3" width="1" height="1.7" fill="#2b9783"/>
<rect x="643" y="682.0" width="1" height="15.0" fill="#2b9783" fill-opacity="0.8"/>
<rect x="643" y="693.7" width="1" height="1.7" fill="#2b9783"/>
<rect x="644" y="662.0" width="1" height="20.6" fill="#2b9783" fill-opacity="0.8"/>
<rect x="644" y="673.5" width="1" height="20.2" fill="#2b9783"/>
<rect x="645" y="659.8" width="1" height="13.4" fill="#2b9783" fill-opacity="0.8"/>
<rect x="645" y="659.8" width="1" height="13.7" fill="#2b9783"/>
<rect x="646" y="655.0" width="1" height="10.8" fill="#2b9783" fill-opacity="0.8"/>
<rect x="646" y="658.0" width="1" height="1.8" fill="#2b9783"/>
<rect x="647" y="654.3" width="1" height="6.2" fill="#2b9783" fill-opacity="0.8"/>
<rect x="647" y="658.0" width="1" height="2.5" fill="#2b9783"/>
<rect x="648" y="639.4" width="1" height="17.6" fill="#2b9783" fill-opacity="0.8"/>
<rect x="648" y="654.0" width="1" height="6.5" fill="#2b9783"/>
<rect x="649" y="634.0" width="1" height="10.0" fill="#2b9783" fill-opacity="0.8"/>
<rect x="649" y="644.0" width="1" height="10.0" fill="#2b9783"/>
<rect x="650" y="614.0" width="1" height="25.0" fill="#2b9783" fill-opacity="0.8"/>
<rect x="650" y="634.9" width="1" height="9.1" fill="#2b9783"/>
<rect x="651" y="606.0" width="1" height="20.7" fill="#2b9783" fill-opacity="0.8"/>
<rect x="651" y="612.2" width="1" height="22.7" fill="#2b9783"/>
<rect x="652" y="599.0" width="1" height="17.4" fill="#2b9783" fill-opacity="0.8"/>
<rect x="652" y="600.6" width="1" height="11.6" fill="#2b9783"/>
<rect x="653" y="590.8" width="1" height="14.6" fill="#2b9783" fill-opacity="0.8"/>
<rect x="653" y="598.8" width="1" height="1.9" fill="#2b9783"/>
<rect x="654" y="583.3" width="1" height="22.8" fill="#2b9783" fill-opacity="0.8"/>
<rect x="654" y="598.8" width="1" height="7.3" fill="#2b9783"/>
<rect x="655" y="565.0" width="1" height="35.2" fill="#2b9783" fill-opacity="0.8"/>
<rect x="655" y="600.2" width="1" height="5.9" fill="#2b9783"/>
<rect x="656" y="567.6" width="1" height="31.4" fill="#2b9783" fill-opacity="0.8"/>
<rect x="656" y="580.7" width="1" height="19.5" fill="#2b9783"/>
<rect x="657" y="570.8" width="1" height="28.2" fill="#d4564f" fill-opacity="0.8"/>
<rect x="657" y="580.7" width="1" height="14.5" fill="#d4564f"/>
<rect x="658" y="574.0" width="1" height="25.0" fill="#d4564f" fill-opacity="0.8"/>
<rect x="658" y="595.2" width="1" height="3.8" fill="#d4564f"/>
<rect x="659" y="593.3" width="1" height="4.7" fill="#2b9783" fill-opacity="0.8"/>
<rect x="659" y="597.2" width="1" height="2.5" fill="#2b9783"/>
<rect x="660" y="577.4" width="1" height="19.5" fill="#2b9783" fill-opacity="0.8"/>
<rect x="660" y="593.5" width="1" height="4.5" fill="#2b9783"/>
<rect x="661" y="578.7" width="1" height="17.3" fill="#2b9783" fill-opacity="0.8"/>
<rect x="661" y="587.8" width="1" height="5.6" fill="#2b9783"/>
<rect x="662" y="577.1" width="1" height="14.5" fill="#2b9783" fill-opacity="0.8"/>
<rect x="662" y="587.8" width="1" height="3.8" fill="#2b9783"/>
<rect x="663" y="584.3" width="1" height="3.4" fill="#2b9783" fill-opacity="0.8"/>
<rect x="663" y="587.8" width="1" height="3.9" fill="#2b9783"/>
<rect x="664" y="570.2" width="1" height="14.8" fill="#2b9783" fill-opacity="0.8"/>
<rect x="664" y="579.9" width="1" height="7.9" fill="#2b9783"/>
<rect x="665" y="565.9" width="1" height="15.4" fill="#2b9783" fill-opacity="0.8"/>
<rect x="665" y="565.9" width="1" height="14.0" fill="#2b9783"/>
<rect x="666" y="560.0" width="1" height="18.4" fill="#2b9783" fill-opacity="0.8"/>
<rect x="666" y="562.0" width="1" height="3.9" fill="#2b9783"/>
<rect x="667" y="557.5" width="1" height="9.9" fill="#2b9783" fill-opacity="0.8"/>
<rect x="667" y="562.0" width="1" height="1.8" fill="#2b9783"/>
<rect x="668" y="552.5" width="1" height="18.5" fill="#2b9783" fill-opacity="0.8"/>
<rect x="668" y="563.8" width="1" height="7.2" fill="#2b9783"/>
<rect x="669" y="553.7" width="1" height="13.3" fill="#2b9783" fill-opacity="0.8"/>
<rect x="669" y="566.8" width="1" height="4.2" fill="#2b9783"/>
<rect x="670" y="545.0" width="1" height="20.0" fill="#2b9783" fill-opacity="0.8"/>
<rect x="670" y="565.0" width="1" height="1.8" fill="#2b9783"/>
<rect x="671" y="545.0" width="1" height="20.0" fill="#2b9783" fill-opacity="0.8"/>
<rect x="671" y="554.7" width="1" height="10.3" fill="#2b9783"/>
<rect x="672" y="545.0" width="1" height="20.0" fill="#2b9783" fill-opacity="0.8"/>
<rect x="672" y="554.7" width="1" height="10.3" fill="#2b9783"/>
<rect x="673" y="544.7" width="1" height="13.3" fill="#2b9783" fill-opacity="0.8"/>
<rect x="673" y="558.0" width="1" height="7.0" fill="#2b9783"/>
<rect x="674" y="520.0" width="1" height="28.0" fill="#2b9783" fill-opacity="0.8"/>
<rect x="674" y="530.1" width="1" height="27.9" fill="#2b9783"/>
<rect x="675" y="510.8" width="1" height="18.7" fill="#2b9783" fill-opacity="0.8"/>
<rect x="675" y="526.2" width="1" height="4.0" fill="#2b9783"/>
<rect x="676" y="485.0" width="1" height="29.8" fill="#2b9783" fill-opacity="0.8"/>
<rect x="676" y="514.8" width="1" height="11.4" fill="#2b9783"/>
<rect x="677" y="504.1" width="1" height="13.3" fill="#d4564f" fill-opacity="0.8"/>
<rect x="677" y="514.8" width="1" height="2.6" fill="#d4564f"/>
<rect x="678" y="497.0" width="1" height="23.0" fill="#d4564f" fill-opacity="0.8"/>
<rect x="678" y="517.4" width="1" height="2.6" fill="#d4564f"/>
<rect x="679" y="506.5" width="1" height="18.5" fill="#d4564f" fill-opacity="0.8"/>
<rect x="679" y="518.6" width="1" height="2.1" fill="#d4564f"/>
<rect x="680" y="499.1" width="1" height="30.9" fill="#d4564f" fill-opacity="0.8"/>
<rect x="680" y="505.5" width="1" height="13.9" fill="#d4564f"/>
<rect x="681" y="500.0" width="1" height="34.0" fill="#d4564f" fill-opacity="0.8"/>
<rect x="681" y="505.5" width="1" height="21.0" fill="#d4564f"/>
<rect x="682" y="506.7" width="1" height="26.1" fill="#2b9783" fill-opacity="0.8"/>
<rect x="682" y="523.8" width="1" height="2.7" fill="#2b9783"/>
<rect x="683" y="506.1" width="1" height="25.7" fill="#d4564f" fill-opacity="0.8"/>
<rect x="683" y="523.8" width="1" height="7.9" fill="#d4564f"/>
<rect x="684" y="508.0" width="1" height="23.0" fill="#2b9783" fill-opacity="0.8"/>
<rect x="684" y="529.9" width="1" height="2.5" fill="#2b9783"/>
<rect x="685" y="510.8" width="1" height="18.8" fill="#2b9783" fill-opacity="0.8"/>
<rect x="685" y="513.3" width="1" height="17.4" fill="#2b9783"/>
<rect x="686" y="512.9" width="1" height="15.1" fill="#d4564f" fill-opacity="0.8"/>
<rect x="686" y="513.3" width="1" height="6.7" fill="#d4564f"/>
<rect x="687" y="515.0" width="1" height="15.4" fill="#2b9783" fill-opacity="0.8"/>
<rect x="687" y="515.0" width="1" height="5.0" fill="#2b9783"/>
<rect x="688" y="517.1" width="1" height="12.4" fill="#d4564f" fill-opacity="0.8"/>
<rect x="688" y="515.0" width="1" height="8.1" fill="#d4564f"/>
<rect x="689" y="519.2" width="1" height="22.8" fill="#d4564f" fill-opacity="0.8"/>
<rect x="689" y="523.1" width="1" height="17.0" fill="#d4564f"/>
<rect x="690" y="517.4" width="1" height="20.3" fill="#2b9783" fill-opacity="0.8"/>
<rect x="690" y="529.5" width="1" height="10.6" fill="#2b9783"/>
<rect x="691" y="515.8" width="1" height="14.8" fill="#2b9783" fill-opacity="0.8"/>
<rect x="691" y="524.5" width="1" height="4.9" fill="#2b9783"/>
<rect x="692" y="508.0" width="1" height="15.4" fill="#2b9783" fill-opacity="0.8"/>
<rect x="692" y="522.4" width="1" height="2.1" fill="#2b9783"/>
<rect x="693" y="508.0" width="1" height="14.0" fill="#2b9783" fill-opacity="0.8"/>
<rect x="693" y="508.8" width="1" height="13.6" fill="#2b9783"/>
<rect x="694" y="508.0" width="1" height="5.3" fill="#2b9783" fill-opacity="0.8"/>
<rect x="694" y="507.2" width="1" height="2.3" fill="#2b9783"/>
<rect x="695" y="508.0" width="1" height="14.0" fill="#d4564f" fill-opacity="0.8"/>
<rect x="695" y="507.2" width="1" height="1.5" fill="#d4564f"/>
<rect x="696" y="506.4" width="1" height="8.5" fill="#2b9783" fill-opacity="0.8"/>
<rect x="696" y="506.4" width="1" height="1.6" fill="#2b9783"/>
<rect x="697" y="504.6" width="1" height="5.5" fill="#2b9783" fill-opacity="0.8"/>
<rect x="697" y="504.6" width="1" height="1.8" fill="#2b9783"/>
<rect x="698" y="502.6" width="1" height="17.4" fill="#d4564f" fill-opacity="0.8"/>
<rect x="698" y="504.6" width="1" height="7.5" fill="#d4564f"/>
<rect x="699" y="502.5" width="1" height="12.9" fill="#2b9783" fill-opacity="0.8"/>
<rect x="699" y="507.7" width="1" height="4.4" fill="#2b9783"/>
<rect x="700" y="494.3" width="1" height="17.0" fill="#d4564f" fill-opacity="0.8"/>
<rect x="700" y="497.6" width="1" height="10.0" fill="#d4564f"/>
<rect x="701" y="491.0" width="1" height="17.0" fill="#d4564f" fill-opacity="0.8"/>
<rect x="701" y="497.6" width="1" height="6.1" fill="#d4564f"/>
<rect x="702" y="493.7" width="1" height="14.3" fill="#2b9783" fill-opacity="0.8"/>
<rect x="702" y="498.7" width="1" height="5.0" fill="#2b9783"/>
<rect x="703" y="495.9" width="1" height="11.7" fill="#d4564f" fill-opacity="0.8"/>
<rect x="703" y="497.7" width="1" height="1.7" fill="#d4564f"/>
<rect x="704" y="497.0" width="1" height="12.1" fill="#d4564f" fill-opacity="0.8"/>
<rect x="704" y="498.5" width="1" height="7.4" fill="#d4564f"/>
<rect x="705" y="505.2" width="1" height="5.6" fill="#d4564f" fill-opacity="0.8"/>
<rect x="705" y="505.9" width="1" height="3.2" fill="#d4564f"/>
<rect x="706" y="500.9" width="1" height="13.1" fill="#2b9783" fill-opacity="0.8"/>
<rect x="706" y="509.0" width="1" height="3.1" fill="#2b9783"/>
<rect x="707" y="490.7" width="1" height="17.6" fill="#2b9783" fill-opacity="0.8"/>
<rect x="707" y="508.4" width="1" height="3.8" fill="#2b9783"/>
<rect x="708" y="474.0" width="1" height="31.0" fill="#2b9783" fill-opacity="0.8"/>
<rect x="708" y="504.4" width="1" height="4.0" fill="#2b9783"/>
<rect x="709" y="475.9" width="1" height="22.4" fill="#2b9783" fill-opacity="0.8"/>
<rect x="709" y="498.3" width="1" height="6.1" fill="#2b9783"/>
<rect x="710" y="468.0" width="1" height="24.2" fill="#2b9783" fill-opacity="0.8"/>
<rect x="710" y="474.9" width="1" height="23.4" fill="#2b9783"/>
<rect x="711" y="464.6" width="1" height="19.2" fill="#2b9783" fill-opacity="0.8"/>
<rect x="711" y="465.0" width="1" height="9.8" fill="#2b9783"/>
<rect x="712" y="460.0" width="1" height="14.9" fill="#2b9783" fill-opacity="0.8"/>
<rect x="712" y="465.0" width="1" height="6.8" fill="#2b9783"/>
<rect x="713" y="466.6" width="1" height="3.8" fill="#2b9783" fill-opacity="0.8"/>
<rect x="713" y="469.7" width="1" height="3.0" fill="#2b9783"/>
<rect x="714" y="446.0" width="1" height="20.4" fill="#2b9783" fill-opacity="0.8"/>
<rect x="714" y="452.2" width="1" height="18.2" fill="#2b9783"/>
<rect x="715" y="446.9" width="1" height="13.5" fill="#2b9783" fill-opacity="0.8"/>
<rect x="715" y="452.2" width="1" height="8.2" fill="#2b9783"/>
<rect x="716" y="423.0" width="1" height="31.1" fill="#2b9783" fill-opacity="0.8"/>
<rect x="716" y="447.4" width="1" height="13.0" fill="#2b9783"/>
<rect x="717" y="423.9" width="1" height="26.6" fill="#2b9783" fill-opacity="0.8"/>
<rect x="717" y="424.1" width="1" height="23.2" fill="#2b9783"/>
<rect x="718" y="425.7" width="1" height="16.4" fill="#d4564f" fill-opacity="0.8"/>
<rect x="718" y="424.1" width="1" height="1.5" fill="#d4564f"/>
<rect x="719" y="427.5" width="1" height="20.5" fill="#d4564f" fill-opacity="0.8"/>
<rect x="719" y="425.7" width="1" height="1.8" fill="#d4564f"/>
<rect x="720" y="427.0" width="1" height="7.0" fill="#d4564f" fill-opacity="0.8"/>
<rect x="720" y="426.7" width="1" height="2.2" fill="#d4564f"/>
<rect x="721" y="425.5" width="1" height="11.5" fill="#d4564f" fill-opacity="0.8"/>
<rect x="721" y="428.2" width="1" height="3.9" fill="#d4564f"/>
<rect x="722" y="424.0" width="1" height="13.0" fill="#2b9783" fill-opacity="0.8"/>
<rect x="722" y="429.6" width="1" height="2.4" fill="#2b9783"/>
<rect x="723" y="423.0" width="1" height="14.8" fill="#2b9783" fill-opacity="0.8"/>
<rect x="723" y="427.7" width="1" height="2.6" fill="#2b9783"/>
<rect x="724" y="428.1" width="1" height="13.9" fill="#d4564f" fill-opacity="0.8"/>
<rect x="724" y="428.5" width="1" height="6.6" fill="#d4564f"/>
<rect x="725" y="431.0" width="1" height="11.8" fill="#d4564f" fill-opacity="0.8"/>
<rect x="725" y="435.1" width="1" height="7.7" fill="#d4564f"/>
<rect x="726" y="437.2" width="1" height="7.2" fill="#d4564f" fill-opacity="0.8"/>
<rect x="726" y="442.8" width="1" height="1.6" fill="#d4564f"/>
<rect x="727" y="435.0" width="1" height="11.0" fill="#d4564f" fill-opacity="0.8"/>
<rect x="727" y="440.6" width="1" height="3.8" fill="#d4564f"/>
<rect x="728" y="438.2" width="1" height="6.4" fill="#d4564f" fill-opacity="0.8"/>
<rect x="728" y="439.9" width="1" height="2.7" fill="#d4564f"/>
<rect x="729" y="441.0" width="1" height="12.0" fill="#d4564f" fill-opacity="0.8"/>
<rect x="729" y="441.8" width="1" height="2.4" fill="#d4564f"/>
<rect x="730" y="454.5" width="1" height="40.5" fill="#d4564f" fill-opacity="0.8"/>
<rect x="730" y="444.2" width="1" height="38.1" fill="#d4564f"/>
<rect x="731" y="474.1" width="1" height="12.9" fill="#d4564f" fill-opacity="0.8"/>
<rect x="731" y="482.3" width="1" height="4.7" fill="#d4564f"/>
<rect x="732" y="461.0" width="1" height="21.0" fill="#2b9783" fill-opacity="0.8"/>
<rect x="732" y="479.1" width="1" height="7.9" fill="#2b9783"/>
<rect x="733" y="460.0" width="1" height="13.3" fill="#2b9783" fill-opacity="0.8"/>
<rect x="733" y="467.3" width="1" height="11.8" fill="#2b9783"/>
<rect x="734" y="464.7" width="1" height="4.4" fill="#d4564f" fill-opacity="0.8"/>
<rect x="734" y="467.3" width="1" height="1.8" fill="#d4564f"/>
<rect x="735" y="454.0" width="1" height="11.9" fill="#2b9783" fill-opacity="0.8"/>
<rect x="735" y="465.9" width="1" height="3.2" fill="#2b9783"/>
<rect x="736" y="460.2" width="1" height="9.6" fill="#d4564f" fill-opacity="0.8"/>
<rect x="736" y="463.8" width="1" height="2.9" fill="#d4564f"/>
<rect x="737" y="464.7" width="1" height="14.3" fill="#d4564f" fill-opacity="0.8"/>
<rect x="737" y="464.5" width="1" height="7.6" fill="#d4564f"/>
<rect x="738" y="470.3" width="1" height="20.7" fill="#d4564f" fill-opacity="0.8"/>
<rect x="738" y="472.1" width="1" height="14.3" fill="#d4564f"/>
<rect x="739" y="471.7" width="1" height="13.7" fill="#2b9783" fill-opacity="0.8"/>
<rect x="739" y="484.0" width="1" height="2.3" fill="#2b9783"/>
<rect x="740" y="461.0" width="1" height="13.3" fill="#2b9783" fill-opacity="0.8"/>
<rect x="740" y="471.9" width="1" height="12.1" fill="#2b9783"/>
<rect x="741" y="458.4" width="1" height="10.7" fill="#2b9783" fill-opacity="0.8"/>
<rect x="741" y="462.0" width="1" height="9.9" fill="#2b9783"/>
<rect x="742" y="454.0" width="1" height="12.5" fill="#2b9783" fill-opacity="0.8"/>
<rect x="742" y="459.2" width="1" height="2.8" fill="#2b9783"/>
<rect x="743" y="456.9" width="1" height="10.1" fill="#d4564f" fill-opacity="0.8"/>
<rect x="743" y="459.2" width="1" height="2.4" fill="#d4564f"/>
<rect x="744" y="460.6" width="1" height="10.4" fill="#d4564f" fill-opacity="0.8"/>
<rect x="744" y="461.6" width="1" height="6.4" fill="#d4564f"/>
<rect x="745" y="457.0" width="1" height="8.8" fill="#2b9783" fill-opacity="0.8"/>
<rect x="745" y="460.4" width="1" height="7.6" fill="#2b9783"/>
<rect x="746" y="448.0" width="1" height="12.0" fill="#2b9783" fill-opacity="0.8"/>
<rect x="746" y="453.2" width="1" height="7.3" fill="#2b9783"/>
<rect x="747" y="444.3" width="1" height="10.9" fill="#2b9783" fill-opacity="0.8"/>
<rect x="747" y="445.6" width="1" height="7.5" fill="#2b9783"/>
<rect x="748" y="440.4" width="1" height="10.6" fill="#2b9783" fill-opacity="0.8"/>
<rect x="748" y="441.7" width="1" height="4.0" fill="#2b9783"/>
<rect x="749" y="433.0" width="1" height="12.1" fill="#2b9783" fill-opacity="0.8"/>
<rect x="749" y="439.8" width="1" height="1.8" fill="#2b9783"/>
<rect x="750" y="436.8" width="1" height="10.6" fill="#d4564f" fill-opacity="0.8"/>
<rect x="750" y="439.8" width="1" height="7.5" fill="#d4564f"/>
<rect x="751" y="442.0" width="1" height="10.0" fill="#d4564f" fill-opacity="0.8"/>
<rect x="751" y="447.4" width="1" height="4.2" fill="#d4564f"/>
<rect x="752" y="442.5" width="1" height="9.1" fill="#2b9783" fill-opacity="0.8"/>
<rect x="752" y="446.4" width="1" height="5.2" fill="#2b9783"/>
<rect x="753" y="443.0" width="1" height="8.0" fill="#d4564f" fill-opacity="0.8"/>
<rect x="753" y="446.4" width="1" height="4.6" fill="#d4564f"/>
<rect x="754" y="444.6" width="1" height="7.5" fill="#2b9783" fill-opacity="0.8"/>
<rect x="754" y="444.6" width="1" height="6.4" fill="#2b9783"/>
<rect x="755" y="445.8" width="1" height="7.2" fill="#d4564f" fill-opacity="0.8"/>
<rect x="755" y="444.6" width="1" height="2.9" fill="#d4564f"/>
<rect x="756" y="444.3" width="1" height="7.1" fill="#d4564f" fill-opacity="0.8"/>
<rect x="756" y="447.5" width="1" height="1.9" fill="#d4564f"/>
<rect x="757" y="443.0" width="1" height="12.2" fill="#d4564f" fill-opacity="0.8"/>
<rect x="757" y="449.3" width="1" height="5.0" fill="#d4564f"/>
<rect x="758" y="448.1" width="1" height="8.2" fill="#d4564f" fill-opacity="0.8"/>
<rect x="758" y="452.3" width="1" height="2.8" fill="#d4564f"/>
<rect x="759" y="451.0" width="1" height="7.8" fill="#d4564f" fill-opacity="0.8"/>
<rect x="759" y="453.0" width="1" height="2.9" fill="#d4564f"/>
<rect x="760" y="456.1" width="1" height="11.9" fill="#d4564f" fill-opacity="0.8"/>
<rect x="760" y="455.2" width="1" height="1.6" fill="#d4564f"/>
<rect x="761" y="460.5" width="1" height="10.2" fill="#d4564f" fill-opacity="0.8"/>
<rect x="761" y="456.1" width="1" height="11.0" fill="#d4564f"/>
<rect x="762" y="465.5" width="1" height="13.5" fill="#d4564f" fill-opacity="0.8"/>
<rect x="762" y="464.8" width="1" height="3.0" fill="#d4564f"/>
<rect x="763" y="469.2" width="1" height="4.1" fill="#d4564f" fill-opacity="0.8"/>
<rect x="763" y="465.6" width="1" height="4.0" fill="#d4564f"/>
<rect x="764" y="471.8" width="1" height="15.2" fill="#d4564f" fill-opacity="0.8"/>
<rect x="764" y="469.6" width="1" height="7.5" fill="#d4564f"/>
<rect x="765" y="473.9" width="1" height="9.5" fill="#d4564f" fill-opacity="0.8"/>
<rect x="765" y="477.1" width="1" height="1.9" fill="#d4564f"/>
<rect x="766" y="466.0" width="1" height="10.2" fill="#2b9783" fill-opacity="0.8"/>
<rect x="766" y="473.1" width="1" height="6.0" fill="#2b9783"/>
<rect x="767" y="468.1" width="1" height="4.8" fill="#2b9783" fill-opacity="0.8"/>
<rect x="767" y="470.5" width="1" height="2.6" fill="#2b9783"/>
<rect x="768" y="461.0" width="1" height="10.3" fill="#2b9783" fill-opacity="0.8"/>
<rect x="768" y="468.0" width="1" height="2.5" fill="#2b9783"/>
<rect x="769" y="459.7" width="1" height="11.3" fill="#2b9783" fill-opacity="0.8"/>
<rect x="769" y="465.2" width="1" height="2.8" fill="#2b9783"/>
<rect x="770" y="458.0" width="1" height="13.0" fill="#d4564f" fill-opacity="0.8"/>
<rect x="770" y="465.2" width="1" height="3.9" fill="#d4564f"/>
<rect x="771" y="463.4" width="1" height="19.2" fill="#d4564f" fill-opacity="0.8"/>
<rect x="771" y="469.1" width="1" height="13.4" fill="#d4564f"/>
<rect x="772" y="466.0" width="1" height="23.0" fill="#d4564f" fill-opacity="0.8"/>
<rect x="772" y="481.8" width="1" height="2.3" fill="#d4564f"/>
<rect x="773" y="467.0" width="1" height="9.5" fill="#2b9783" fill-opacity="0.8"/>
<rect x="773" y="472.2" width="1" height="11.1" fill="#2b9783"/>
<rect x="774" y="462.9" width="1" height="8.1" fill="#2b9783" fill-opacity="0.8"/>
<rect x="774" y="463.4" width="1" height="8.8" fill="#2b9783"/>
<rect x="775" y="456.0" width="1" height="10.8" fill="#2b9783" fill-opacity="0.8"/>
<rect x="775" y="457.5" width="1" height="5.8" fill="#2b9783"/>
<rect x="776" y="452.6" width="1" height="9.2" fill="#2b9783" fill-opacity="0.8"/>
<rect x="776" y="452.6" width="1" height="4.9" fill="#2b9783"/>
<rect x="777" y="448.0" width="1" height="8.5" fill="#2b9783" fill-opacity="0.8"/>
<rect x="777" y="451.9" width="1" height="1.6" fill="#2b9783"/>
<rect x="778" y="443.6" width="1" height="8.2" fill="#2b9783" fill-opacity="0.8"/>
<rect x="778" y="448.4" width="1" height="4.4" fill="#2b9783"/>
<rect x="779" y="437.0" width="1" height="10.0" fill="#2b9783" fill-opacity="0.8"/>
<rect x="779" y="441.7" width="1" height="6.7" fill="#2b9783"/>
<rect x="780" y="435.4" width="1" height="8.5" fill="#2b9783" fill-opacity="0.8"/>
<rect x="780" y="435.4" width="1" height="6.3" fill="#2b9783"/>
<rect x="781" y="433.7" width="1" height="8.3" fill="#d4564f" fill-opacity="0.8"/>
<rect x="781" y="435.4" width="1" height="1.6" fill="#d4564f"/>
<rect x="782" y="431.1" width="1" height="8.6" fill="#d4564f" fill-opacity="0.8"/>
<rect x="782" y="436.3" width="1" height="1.5" fill="#d4564f"/>
<rect x="783" y="429.0" width="1" height="11.3" fill="#d4564f" fill-opacity="0.8"/>
<rect x="783" y="436.3" width="1" height="2.0" fill="#d4564f"/>
<rect x="784" y="441.0" width="1" height="10.9" fill="#d4564f" fill-opacity="0.8"/>
<rect x="784" y="437.5" width="1" height="14.4" fill="#d4564f"/>
<rect x="785" y="448.0" width="1" height="12.0" fill="#d4564f" fill-opacity="0.8"/>
<rect x="785" y="451.0" width="1" height="1.6" fill="#d4564f"/>
<rect x="786" y="464.3" width="1" height="36.7" fill="#d4564f" fill-opacity="0.8"/>
<rect x="786" y="451.7" width="1" height="12.5" fill="#d4564f"/>
<rect x="787" y="461.0" width="1" height="15.8" fill="#2b9783" fill-opacity="0.8"/>
<rect x="787" y="461.0" width="1" height="3.3" fill="#2b9783"/>
<rect x="788" y="452.0" width="1" height="11.4" fill="#2b9783" fill-opacity="0.8"/>
<rect x="788" y="452.3" width="1" height="8.7" fill="#2b9783"/>
<rect x="789" y="454.9" width="1" height="10.8" fill="#d4564f" fill-opacity="0.8"/>
<rect x="789" y="452.3" width="1" height="9.9" fill="#d4564f"/>
<rect x="790" y="457.0" width="1" height="14.0" fill="#d4564f" fill-opacity="0.8"/>
<rect x="790" y="457.6" width="1" height="4.5" fill="#d4564f"/>
<rect x="791" y="460.8" width="1" height="3.0" fill="#d4564f" fill-opacity="0.8"/>
<rect x="791" y="457.6" width="1" height="3.2" fill="#d4564f"/>
<rect x="792" y="463.0" width="1" height="8.0" fill="#d4564f" fill-opacity="0.8"/>
<rect x="792" y="460.8" width="1" height="4.6" fill="#d4564f"/>
<rect x="793" y="464.4" width="1" height="5.5" fill="#d4564f" fill-opacity="0.8"/>
<rect x="793" y="465.4" width="1" height="2.3" fill="#d4564f"/>
<rect x="794" y="462.6" width="1" height="8.4" fill="#d4564f" fill-opacity="0.8"/>
<rect x="794" y="466.9" width="1" height="2.6" fill="#d4564f"/>
<rect x="795" y="459.5" width="1" height="4.7" fill="#2b9783" fill-opacity="0.8"/>
<rect x="795" y="464.2" width="1" height="4.5" fill="#2b9783"/>
<rect x="796" y="453.0" width="1" height="11.4" fill="#d4564f" fill-opacity="0.8"/>
<rect x="796" y="463.5" width="1" height="1.6" fill="#d4564f"/>
<rect x="797" y="459.3" width="1" height="11.7" fill="#d4564f" fill-opacity="0.8"/>
<rect x="797" y="464.4" width="1" height="4.7" fill="#d4564f"/>
<rect x="798" y="465.9" width="1" height="7.6" fill="#d4564f" fill-opacity="0.8"/>
<rect x="798" y="469.1" width="1" height="2.4" fill="#d4564f"/>
<rect x="799" y="469.4" width="1" height="9.6" fill="#d4564f" fill-opacity="0.8"/>
<rect x="799" y="471.5" width="1" height="6.2" fill="#d4564f"/>
<rect x="800" y="472.8" width="1" height="8.0" fill="#d4564f" fill-opacity="0.8"/>
<rect x="800" y="477.7" width="1" height="3.1" fill="#d4564f"/>
<rect x="801" y="476.0" width="1" height="8.0" fill="#d4564f" fill-opacity="0.8"/>
<rect x="801" y="480.8" width="1" height="2.3" fill="#d4564f"/>
<rect x="802" y="479.1" width="1" height="9.9" fill="#d4564f" fill-opacity="0.8"/>
<rect x="802" y="483.2" width="1" height="3.9" fill="#d4564f"/>
<rect x="803" y="484.0" width="1" height="2.8" fill="#2b9783" fill-opacity="0.8"/>
<rect x="803" y="485.2" width="1" height="2.7" fill="#2b9783"/>
<rect x="804" y="473.0" width="1" height="9.3" fill="#2b9783" fill-opacity="0.8"/>
<rect x="804" y="479.7" width="1" height="6.2" fill="#2b9783"/>
<rect x="805" y="476.1" width="1" height="4.5" fill="#2b9783" fill-opacity="0.8"/>
<rect x="805" y="477.5" width="1" height="2.9" fill="#2b9783"/>
<rect x="806" y="472.0" width="1" height="8.1" fill="#d4564f" fill-opacity="0.8"/>
<rect x="806" y="478.3" width="1" height="1.8" fill="#d4564f"/>
<rect x="807" y="470.2" width="1" height="8.1" fill="#2b9783" fill-opacity="0.8"/>
<rect x="807" y="475.8" width="1" height="4.3" fill="#2b9783"/>
<rect x="808" y="466.0" width="1" height="10.2" fill="#2b9783" fill-opacity="0.8"/>
<rect x="808" y="475.1" width="1" height="1.9" fill="#2b9783"/>
<rect x="809" y="464.1" width="1" height="8.1" fill="#2b9783" fill-opacity="0.8"/>
<rect x="809" y="465.5" width="1" height="10.7" fill="#2b9783"/>
<rect x="810" y="462.0" width="1" height="6.0" fill="#2b9783" fill-opacity="0.8"/>
<rect x="810" y="463.6" width="1" height="2.7" fill="#2b9783"/>
<rect x="811" y="458.0" width="1" height="7.5" fill="#2b9783" fill-opacity="0.8"/>
<rect x="811" y="458.0" width="1" height="6.4" fill="#2b9783"/>
<rect x="812" y="454.0" width="1" height="9.0" fill="#2b9783" fill-opacity="0.8"/>
<rect x="812" y="454.0" width="1" height="4.0" fill="#2b9783"/>
<rect x="813" y="453.5" width="1" height="6.2" fill="#2b9783" fill-opacity="0.8"/>
<rect x="813" y="452.7" width="1" height="2.0" fill="#2b9783"/>
<rect x="814" y="453.0" width="1" height="7.8" fill="#d4564f" fill-opacity="0.8"/>
<rect x="814" y="453.5" width="1" height="4.1" fill="#d4564f"/>
<rect x="815" y="458.8" width="1" height="5.3" fill="#d4564f" fill-opacity="0.8"/>
<rect x="815" y="457.6" width="1" height="1.8" fill="#d4564f"/>
<rect x="816" y="462.8" width="1" height="13.2" fill="#d4564f" fill-opacity="0.8"/>
<rect x="816" y="459.4" width="1" height="3.4" fill="#d4564f"/>
<rect x="817" y="461.7" width="1" height="7.1" fill="#2b9783" fill-opacity="0.8"/>
<rect x="817" y="461.0" width="1" height="2.6" fill="#2b9783"/>
<rect x="818" y="460.8" width="1" height="12.2" fill="#d4564f" fill-opacity="0.8"/>
<rect x="818" y="461.7" width="1" height="1.9" fill="#d4564f"/>
<rect x="819" y="461.3" width="1" height="8.1" fill="#2b9783" fill-opacity="0.8"/>
<rect x="819" y="463.6" width="1" height="2.8" fill="#2b9783"/>
<rect x="820" y="458.5" width="1" height="9.5" fill="#2b9783" fill-opacity="0.8"/>
<rect x="820" y="460.2" width="1" height="6.2" fill="#2b9783"/>
<rect x="821" y="455.5" width="1" height="7.2" fill="#2b9783" fill-opacity="0.8"/>
<rect x="821" y="460.2" width="1" height="2.6" fill="#2b9783"/>
<rect x="822" y="454.0" width="1" height="7.0" fill="#2b9783" fill-opacity="0.8"/>
<rect x="822" y="459.9" width="1" height="2.8" fill="#2b9783"/>
<rect x="823" y="449.0" width="1" height="8.8" fill="#2b9783" fill-opacity="0.8"/>
<rect x="823" y="457.8" width="1" height="2.1" fill="#2b9783"/>
<rect x="824" y="447.4" width="1" height="8.3" fill="#2b9783" fill-opacity="0.8"/>
<rect x="824" y="448.8" width="1" height="9.0" fill="#2b9783"/>
<rect x="825" y="444.0" width="1" height="9.6" fill="#2b9783" fill-opacity="0.8"/>
<rect x="825" y="446.0" width="1" height="2.8" fill="#2b9783"/>
<rect x="826" y="442.2" width="1" height="8.6" fill="#2b9783" fill-opacity="0.8"/>
<rect x="826" y="442.2" width="1" height="3.8" fill="#2b9783"/>
<rect x="827" y="439.0" width="1" height="8.6" fill="#2b9783" fill-opacity="0.8"/>
<rect x="827" y="439.8" width="1" height="2.3" fill="#2b9783"/>
<rect x="828" y="438.2" width="1" height="7.6" fill="#2b9783" fill-opacity="0.8"/>
<rect x="828" y="438.2" width="1" height="1.7" fill="#2b9783"/>
<rect x="829" y="437.0" width="1" height="7.0" fill="#2b9783" fill-opacity="0.8"/>
<rect x="829" y="437.2" width="1" height="1.7" fill="#2b9783"/>
<rect x="830" y="438.9" width="1" height="11.3" fill="#d4564f" fill-opacity="0.8"/>
<rect x="830" y="438.0" width="1" height="4.3" fill="#d4564f"/>
<rect x="831" y="441.0" width="1" height="16.0" fill="#2b9783" fill-opacity="0.8"/>
<rect x="831" y="441.0" width="1" height="2.0" fill="#2b9783"/>
<rect x="832" y="428.0" width="1" height="21.5" fill="#2b9783" fill-opacity="0.8"/>
<rect x="832" y="441.8" width="1" height="2.3" fill="#2b9783"/>
<rect x="833" y="421.8" width="1" height="17.3" fill="#2b9783" fill-opacity="0.8"/>
<rect x="833" y="425.5" width="1" height="18.6" fill="#2b9783"/>
<rect x="834" y="414.0" width="1" height="14.0" fill="#2b9783" fill-opacity="0.8"/>
<rect x="834" y="420.8" width="1" height="4.7" fill="#2b9783"/>
<rect x="835" y="416.9" width="1" height="7.2" fill="#2b9783" fill-opacity="0.8"/>
<rect x="835" y="420.1" width="1" height="2.7" fill="#2b9783"/>
<rect x="836" y="409.0" width="1" height="12.0" fill="#2b9783" fill-opacity="0.8"/>
<rect x="836" y="412.5" width="1" height="9.5" fill="#2b9783"/>
<rect x="837" y="403.8" width="1" height="11.6" fill="#2b9783" fill-opacity="0.8"/>
<rect x="837" y="403.8" width="1" height="8.8" fill="#2b9783"/>
<rect x="838" y="396.0" width="1" height="16.0" fill="#2b9783" fill-opacity="0.8"/>
<rect x="838" y="398.6" width="1" height="5.2" fill="#2b9783"/>
<rect x="839" y="394.1" width="1" height="14.0" fill="#d4564f" fill-opacity="0.8"/>
<rect x="839" y="398.6" width="1" height="3.0" fill="#d4564f"/>
<rect x="840" y="389.0" width="1" height="15.2" fill="#2b9783" fill-opacity="0.8"/>
<rect x="840" y="390.2" width="1" height="11.4" fill="#2b9783"/>
<rect x="841" y="391.9" width="1" height="5.0" fill="#d4564f" fill-opacity="0.8"/>
<rect x="841" y="390.2" width="1" height="1.7" fill="#d4564f"/>
<rect x="842" y="396.0" width="1" height="14.0" fill="#d4564f" fill-opacity="0.8"/>
<rect x="842" y="391.9" width="1" height="4.1" fill="#d4564f"/>
<rect x="843" y="398.2" width="1" height="3.8" fill="#d4564f" fill-opacity="0.8"/>
<rect x="843" y="396.0" width="1" height="2.3" fill="#d4564f"/>
<rect x="844" y="398.7" width="1" height="5.6" fill="#d4564f" fill-opacity="0.8"/>
<rect x="844" y="398.2" width="1" height="1.7" fill="#d4564f"/>
<rect x="845" y="398.9" width="1" height="15.1" fill="#2b9783" fill-opacity="0.8"/>
<rect x="845" y="398.2" width="1" height="2.5" fill="#2b9783"/>
<rect x="846" y="398.6" width="1" height="3.0" fill="#2b9783" fill-opacity="0.8"/>
<rect x="846" y="397.8" width="1" height="1.9" fill="#2b9783"/>
<rect x="847" y="398.2" width="1" height="4.8" fill="#2b9783" fill-opacity="0.8"/>
<rect x="847" y="397.4" width="1" height="1.9" fill="#2b9783"/>
<rect x="848" y="398.0" width="1" height="10.0" fill="#d4564f" fill-opacity="0.8"/>
<rect x="848" y="398.2" width="1" height="2.5" fill="#d4564f"/>
<rect x="849" y="405.9" width="1" height="15.1" fill="#d4564f" fill-opacity="0.8"/>
<rect x="849" y="400.6" width="1" height="5.3" fill="#d4564f"/>
<rect x="850" y="407.3" width="1" height="7.5" fill="#2b9783" fill-opacity="0.8"/>
<rect x="850" y="405.2" width="1" height="2.9" fill="#2b9783"/>
<rect x="851" y="407.8" width="1" height="8.3" fill="#d4564f" fill-opacity="0.8"/>
<rect x="851" y="407.3" width="1" height="3.1" fill="#d4564f"/>
<rect x="852" y="408.0" width="1" height="13.1" fill="#d4564f" fill-opacity="0.8"/>
<rect x="852" y="409.7" width="1" height="2.0" fill="#d4564f"/>
<rect x="853" y="416.9" width="1" height="6.4" fill="#d4564f" fill-opacity="0.8"/>
<rect x="853" y="411.0" width="1" height="5.9" fill="#d4564f"/>
<rect x="854" y="421.0" width="1" height="18.0" fill="#d4564f" fill-opacity="0.8"/>
<rect x="854" y="416.9" width="1" height="18.9" fill="#d4564f"/>
<rect x="855" y="423.9" width="1" height="15.1" fill="#2b9783" fill-opacity="0.8"/>
<rect x="855" y="427.2" width="1" height="8.6" fill="#2b9783"/>
<rect x="856" y="425.0" width="1" height="14.0" fill="#d4564f" fill-opacity="0.8"/>
<rect x="856" y="427.2" width="1" height="6.0" fill="#d4564f"/>
<rect x="857" y="426.7" width="1" height="10.1" fill="#2b9783" fill-opacity="0.8"/>
<rect x="857" y="430.7" width="1" height="2.5" fill="#2b9783"/>
<rect x="858" y="425.0" width="1" height="10.3" fill="#d4564f" fill-opacity="0.8"/>
<rect x="858" y="430.7" width="1" height="3.5" fill="#d4564f"/>
<rect x="859" y="422.1" width="1" height="10.4" fill="#2b9783" fill-opacity="0.8"/>
<rect x="859" y="426.5" width="1" height="7.7" fill="#2b9783"/>
<rect x="860" y="417.0" width="1" height="12.3" fill="#2b9783" fill-opacity="0.8"/>
<rect x="860" y="425.8" width="1" height="2.6" fill="#2b9783"/>
<rect x="861" y="418.7" width="1" height="8.0" fill="#2b9783" fill-opacity="0.8"/>
<rect x="861" y="423.6" width="1" height="4.0" fill="#2b9783"/>
<rect x="862" y="415.5" width="1" height="9.0" fill="#d4564f" fill-opacity="0.8"/>
<rect x="862" y="422.9" width="1" height="1.5" fill="#d4564f"/>
<rect x="863" y="412.0" width="1" height="13.0" fill="#d4564f" fill-opacity="0.8"/>
<rect x="863" y="422.9" width="1" height="2.4" fill="#d4564f"/>
<rect x="864" y="423.6" width="1" height="11.4" fill="#d4564f" fill-opacity="0.8"/>
<rect x="864" y="424.6" width="1" height="5.6" fill="#d4564f"/>
<rect x="865" y="428.6" width="1" height="9.5" fill="#d4564f" fill-opacity="0.8"/>
<rect x="865" y="430.2" width="1" height="7.9" fill="#d4564f"/>
<rect x="866" y="429.7" width="1" height="16.3" fill="#2b9783" fill-opacity="0.8"/>
<rect x="866" y="438.1" width="1" height="6.1" fill="#2b9783"/>
<rect x="867" y="428.6" width="1" height="6.9" fill="#2b9783" fill-opacity="0.8"/>
<rect x="867" y="435.5" width="1" height="8.7" fill="#2b9783"/>
<rect x="868" y="408.0" width="1" height="12.5" fill="#2b9783" fill-opacity="0.8"/>
<rect x="868" y="420.5" width="1" height="15.0" fill="#2b9783"/>
<rect x="869" y="374.0" width="1" height="31.0" fill="#2b9783" fill-opacity="0.8"/>
<rect x="869" y="394.1" width="1" height="26.4" fill="#2b9783"/>
<rect x="870" y="382.7" width="1" height="21.2" fill="#2b9783" fill-opacity="0.8"/>
<rect x="870" y="394.1" width="1" height="8.6" fill="#2b9783"/>
<rect x="871" y="389.0" width="1" height="14.0" fill="#d4564f" fill-opacity="0.8"/>
<rect x="871" y="402.0" width="1" height="1.6" fill="#d4564f"/>
<rect x="872" y="385.0" width="1" height="16.6" fill="#d4564f" fill-opacity="0.8"/>
<rect x="872" y="398.8" width="1" height="4.0" fill="#d4564f"/>
<rect x="873" y="389.2" width="1" height="14.1" fill="#d4564f" fill-opacity="0.8"/>
<rect x="873" y="394.5" width="1" height="4.3" fill="#d4564f"/>
<rect x="874" y="396.1" width="1" height="13.9" fill="#d4564f" fill-opacity="0.8"/>
<rect x="874" y="394.5" width="1" height="9.4" fill="#d4564f"/>
<rect x="875" y="402.7" width="1" height="15.6" fill="#d4564f" fill-opacity="0.8"/>
<rect x="875" y="403.9" width="1" height="14.4" fill="#d4564f"/>
<rect x="876" y="408.9" width="1" height="30.1" fill="#d4564f" fill-opacity="0.8"/>
<rect x="876" y="418.3" width="1" height="13.6" fill="#d4564f"/>
<rect x="877" y="415.1" width="1" height="21.9" fill="#d4564f" fill-opacity="0.8"/>
<rect x="877" y="424.2" width="1" height="7.7" fill="#d4564f"/>
<rect x="878" y="419.5" width="1" height="13.7" fill="#d4564f" fill-opacity="0.8"/>
<rect x="878" y="424.2" width="1" height="5.0" fill="#d4564f"/>
<rect x="879" y="422.2" width="1" height="10.3" fill="#d4564f" fill-opacity="0.8"/>
<rect x="879" y="429.2" width="1" height="1.6" fill="#d4564f"/>
<rect x="880" y="422.4" width="1" height="11.0" fill="#2b9783" fill-opacity="0.8"/>
<rect x="880" y="426.3" width="1" height="4.5" fill="#2b9783"/>
<rect x="881" y="423.0" width="1" height="11.0" fill="#2b9783" fill-opacity="0.8"/>
<rect x="881" y="425.2" width="1" height="1.8" fill="#2b9783"/>
<rect x="882" y="426.6" width="1" height="12.4" fill="#d4564f" fill-opacity="0.8"/>
<rect x="882" y="425.9" width="1" height="9.4" fill="#d4564f"/>
<rect x="883" y="431.1" width="1" height="11.6" fill="#d4564f" fill-opacity="0.8"/>
<rect x="883" y="435.4" width="1" height="7.3" fill="#d4564f"/>
<rect x="884" y="439.0" width="1" height="13.0" fill="#d4564f" fill-opacity="0.8"/>
<rect x="884" y="442.6" width="1" height="7.2" fill="#d4564f"/>
<rect x="885" y="441.3" width="1" height="9.9" fill="#d4564f" fill-opacity="0.8"/>
<rect x="885" y="443.6" width="1" height="6.2" fill="#d4564f"/>
<rect x="886" y="443.7" width="1" height="6.3" fill="#d4564f" fill-opacity="0.8"/>
<rect x="886" y="442.8" width="1" height="2.0" fill="#d4564f"/>
<rect x="887" y="450.5" width="1" height="6.0" fill="#d4564f" fill-opacity="0.8"/>
<rect x="887" y="444.1" width="1" height="6.4" fill="#d4564f"/>
<rect x="888" y="455.9" width="1" height="28.1" fill="#d4564f" fill-opacity="0.8"/>
<rect x="888" y="450.5" width="1" height="14.9" fill="#d4564f"/>
<rect x="889" y="445.4" width="1" height="34.1" fill="#2b9783" fill-opacity="0.8"/>
<rect x="889" y="445.4" width="1" height="20.0" fill="#2b9783"/>
<rect x="890" y="439.0" width="1" height="38.0" fill="#2b9783" fill-opacity="0.8"/>
<rect x="890" y="443.6" width="1" height="1.7" fill="#2b9783"/>
<rect x="891" y="455.2" width="1" height="6.7" fill="#d4564f" fill-opacity="0.8"/>
<rect x="891" y="443.6" width="1" height="11.6" fill="#d4564f"/>
<rect x="892" y="461.0" width="1" height="14.0" fill="#d4564f" fill-opacity="0.8"/>
<rect x="892" y="455.2" width="1" height="9.3" fill="#d4564f"/>
<rect x="893" y="471.6" width="1" height="26.4" fill="#d4564f" fill-opacity="0.8"/>
<rect x="893" y="464.5" width="1" height="19.8" fill="#d4564f"/>
<rect x="894" y="473.6" width="1" height="20.9" fill="#d4564f" fill-opacity="0.8"/>
<rect x="894" y="484.3" width="1" height="7.6" fill="#d4564f"/>
<rect x="895" y="474.3" width="1" height="15.7" fill="#2b9783" fill-opacity="0.8"/>
<rect x="895" y="478.6" width="1" height="13.3" fill="#2b9783"/>
<rect x="896" y="474.9" width="1" height="11.1" fill="#2b9783" fill-opacity="0.8"/>
<rect x="896" y="477.4" width="1" height="1.9" fill="#2b9783"/>
<rect x="897" y="473.8" width="1" height="7.2" fill="#2b9783" fill-opacity="0.8"/>
<rect x="897" y="477.2" width="1" height="1.7" fill="#2b9783"/>
<rect x="898" y="473.0" width="1" height="13.0" fill="#d4564f" fill-opacity="0.8"/>
<rect x="898" y="478.0" width="1" height="4.1" fill="#d4564f"/>
<rect x="899" y="469.8" width="1" height="11.1" fill="#2b9783" fill-opacity="0.8"/>
<rect x="899" y="471.9" width="1" height="10.1" fill="#2b9783"/>
<rect x="900" y="466.0" width="1" height="11.0" fill="#d4564f" fill-opacity="0.8"/>
<rect x="900" y="471.9" width="1" height="4.6" fill="#d4564f"/>
<rect x="901" y="467.5" width="1" height="9.5" fill="#2b9783" fill-opacity="0.8"/>
<rect x="901" y="471.9" width="1" height="4.6" fill="#2b9783"/>
<rect x="902" y="470.4" width="1" height="11.6" fill="#2b9783" fill-opacity="0.8"/>
<rect x="902" y="471.9" width="1" height="5.6" fill="#2b9783"/>
<rect x="903" y="472.2" width="1" height="13.1" fill="#d4564f" fill-opacity="0.8"/>
<rect x="903" y="475.8" width="1" height="1.7" fill="#d4564f"/>
<rect x="904" y="473.7" width="1" height="11.6" fill="#d4564f" fill-opacity="0.8"/>
<rect x="904" y="475.8" width="1" height="1.7" fill="#d4564f"/>
<rect x="905" y="475.0" width="1" height="18.0" fill="#d4564f" fill-opacity="0.8"/>
<rect x="905" y="475.8" width="1" height="1.7" fill="#d4564f"/>
<rect x="906" y="483.6" width="1" height="7.3" fill="#d4564f" fill-opacity="0.8"/>
<rect x="906" y="475.8" width="1" height="7.8" fill="#d4564f"/>
<rect x="907" y="488.5" width="1" height="31.5" fill="#d4564f" fill-opacity="0.8"/>
<rect x="907" y="483.6" width="1" height="14.4" fill="#d4564f"/>
<rect x="908" y="486.0" width="1" height="19.6" fill="#2b9783" fill-opacity="0.8"/>
<rect x="908" y="488.6" width="1" height="9.3" fill="#2b9783"/>
<rect x="909" y="482.9" width="1" height="13.2" fill="#2b9783" fill-opacity="0.8"/>
<rect x="909" y="482.9" width="1" height="5.7" fill="#2b9783"/>
<rect x="910" y="475.0" width="1" height="12.9" fill="#2b9783" fill-opacity="0.8"/>
<rect x="910" y="476.8" width="1" height="6.1" fill="#2b9783"/>
<rect x="911" y="473.4" width="1" height="6.7" fill="#2b9783" fill-opacity="0.8"/>
<rect x="911" y="473.4" width="1" height="3.4" fill="#2b9783"/>
<rect x="912" y="470.0" width="1" height="8.9" fill="#2b9783" fill-opacity="0.8"/>
<rect x="912" y="471.1" width="1" height="2.3" fill="#2b9783"/>
<rect x="913" y="468.0" width="1" height="6.1" fill="#2b9783" fill-opacity="0.8"/>
<rect x="913" y="470.0" width="1" height="1.8" fill="#2b9783"/>
<rect x="914" y="464.1" width="1" height="9.3" fill="#2b9783" fill-opacity="0.8"/>
<rect x="914" y="464.1" width="1" height="6.7" fill="#2b9783"/>
<rect x="915" y="460.5" width="1" height="10.5" fill="#2b9783" fill-opacity="0.8"/>
<rect x="915" y="460.7" width="1" height="3.4" fill="#2b9783"/>
<rect x="916" y="457.0" width="1" height="8.1" fill="#2b9783" fill-opacity="0.8"/>
<rect x="916" y="458.2" width="1" height="2.6" fill="#2b9783"/>
<rect x="917" y="457.4" width="1" height="3.1" fill="#2b9783" fill-opacity="0.8"/>
<rect x="917" y="456.6" width="1" height="2.3" fill="#2b9783"/>
<rect x="918" y="458.1" width="1" height="5.6" fill="#d4564f" fill-opacity="0.8"/>
<rect x="918" y="456.6" width="1" height="2.2" fill="#d4564f"/>
<rect x="919" y="458.8" width="1" height="9.2" fill="#d4564f" fill-opacity="0.8"/>
<rect x="919" y="457.3" width="1" height="2.2" fill="#d4564f"/>
<rect x="920" y="459.0" width="1" height="9.0" fill="#d4564f" fill-opacity="0.8"/>
<rect x="920" y="458.0" width="1" height="1.7" fill="#d4564f"/>
<rect x="921" y="458.4" width="1" height="9.9" fill="#2b9783" fill-opacity="0.8"/>
<rect x="921" y="459.0" width="1" height="4.7" fill="#2b9783"/>
<rect x="922" y="457.0" width="1" height="12.0" fill="#2b9783" fill-opacity="0.8"/>
<rect x="922" y="460.6" width="1" height="3.0" fill="#2b9783"/>
<rect x="923" y="442.0" width="1" height="22.1" fill="#2b9783" fill-opacity="0.8"/>
<rect x="923" y="452.6" width="1" height="8.0" fill="#2b9783"/>
<rect x="924" y="438.0" width="1" height="11.4" fill="#2b9783" fill-opacity="0.8"/>
<rect x="924" y="444.0" width="1" height="8.6" fill="#2b9783"/>
<rect x="925" y="436.5" width="1" height="8.5" fill="#d4564f" fill-opacity="0.8"/>
<rect x="925" y="440.9" width="1" height="3.0" fill="#d4564f"/>
<rect x="926" y="435.0" width="1" height="9.8" fill="#2b9783" fill-opacity="0.8"/>
<rect x="926" y="438.5" width="1" height="2.4" fill="#2b9783"/>
<rect x="927" y="440.3" width="1" height="9.7" fill="#d4564f" fill-opacity="0.8"/>
<rect x="927" y="438.5" width="1" height="3.7" fill="#d4564f"/>
<rect x="928" y="443.6" width="1" height="9.4" fill="#d4564f" fill-opacity="0.8"/>
<rect x="928" y="442.2" width="1" height="9.5" fill="#d4564f"/>
<rect x="929" y="442.8" width="1" height="7.4" fill="#2b9783" fill-opacity="0.8"/>
<rect x="929" y="450.0" width="1" height="1.6" fill="#2b9783"/>
<rect x="930" y="433.0" width="1" height="11.6" fill="#2b9783" fill-opacity="0.8"/>
<rect x="930" y="443.6" width="1" height="6.5" fill="#2b9783"/>
<rect x="931" y="437.9" width="1" height="6.7" fill="#d4564f" fill-opacity="0.8"/>
<rect x="931" y="442.8" width="1" height="2.5" fill="#d4564f"/>
<rect x="932" y="439.0" width="1" height="7.5" fill="#d4564f" fill-opacity="0.8"/>
<rect x="932" y="443.8" width="1" height="2.2" fill="#d4564f"/>
<rect x="933" y="440.0" width="1" height="10.5" fill="#d4564f" fill-opacity="0.8"/>
<rect x="933" y="445.3" width="1" height="5.2" fill="#d4564f"/>
<rect x="934" y="447.3" width="1" height="9.7" fill="#d4564f" fill-opacity="0.8"/>
<rect x="934" y="450.5" width="1" height="5.0" fill="#d4564f"/>
<rect x="935" y="450.3" width="1" height="8.0" fill="#d4564f" fill-opacity="0.8"/>
<rect x="935" y="450.4" width="1" height="5.1" fill="#d4564f"/>
<rect x="936" y="452.0" width="1" height="8.0" fill="#d4564f" fill-opacity="0.8"/>
<rect x="936" y="450.4" width="1" height="2.3" fill="#d4564f"/>
<rect x="937" y="458.8" width="1" height="11.2" fill="#d4564f" fill-opacity="0.8"/>
<rect x="937" y="452.7" width="1" height="11.5" fill="#d4564f"/>
<rect x="938" y="456.0" width="1" height="8.5" fill="#2b9783" fill-opacity="0.8"/>
<rect x="938" y="456.6" width="1" height="7.6" fill="#2b9783"/>
<rect x="939" y="450.7" width="1" height="9.9" fill="#2b9783" fill-opacity="0.8"/>
<rect x="939" y="450.7" width="1" height="5.9" fill="#2b9783"/>
<rect x="940" y="447.0" width="1" height="12.0" fill="#2b9783" fill-opacity="0.8"/>
<rect x="940" y="449.9" width="1" height="1.6" fill="#2b9783"/>
<rect x="941" y="455.0" width="1" height="15.0" fill="#d4564f" fill-opacity="0.8"/>
<rect x="941" y="450.6" width="1" height="5.6" fill="#d4564f"/>
<rect x="942" y="455.0" width="1" height="8.0" fill="#d4564f" fill-opacity="0.8"/>
<rect x="942" y="455.1" width="1" height="1.9" fill="#d4564f"/>
<rect x="943" y="460.1" width="1" height="7.9" fill="#2b9783" fill-opacity="0.8"/>
<rect x="943" y="455.8" width="1" height="4.3" fill="#2b9783"/>
<rect x="944" y="462.0" width="1" height="10.9" fill="#d4564f" fill-opacity="0.8"/>
<rect x="944" y="460.1" width="1" height="2.9" fill="#d4564f"/>
<rect x="945" y="463.0" width="1" height="21.0" fill="#d4564f" fill-opacity="0.8"/>
<rect x="945" y="463.0" width="1" height="1.9" fill="#d4564f"/>
<rect x="946" y="463.0" width="1" height="9.0" fill="#2b9783" fill-opacity="0.8"/>
<rect x="946" y="463.0" width="1" height="1.9" fill="#2b9783"/>
<rect x="947" y="461.7" width="1" height="6.4" fill="#2b9783" fill-opacity="0.8"/>
<rect x="947" y="460.9" width="1" height="2.8" fill="#2b9783"/>
<rect x="948" y="459.0" width="1" height="6.0" fill="#2b9783" fill-opacity="0.8"/>
<rect x="948" y="460.9" width="1" height="2.3" fill="#2b9783"/>
<rect x="949" y="454.0" width="1" height="8.3" fill="#2b9783" fill-opacity="0.8"/>
<rect x="949" y="454.5" width="1" height="8.0" fill="#2b9783"/>
<rect x="950" y="456.4" width="1" height="4.8" fill="#d4564f" fill-opacity="0.8"/>
<rect x="950" y="454.5" width="1" height="3.0" fill="#d4564f"/>
<rect x="951" y="457.8" width="1" height="7.2" fill="#d4564f" fill-opacity="0.8"/>
<rect x="951" y="457.5" width="1" height="3.0" fill="#d4564f"/>
<rect x="952" y="457.0" width="1" height="6.3" fill="#2b9783" fill-opacity="0.8"/>
<rect x="952" y="460.4" width="1" height="2.8" fill="#2b9783"/>
<rect x="953" y="452.0" width="1" height="8.0" fill="#d4564f" fill-opacity="0.8"/>
<rect x="953" y="452.0" width="1" height="11.3" fill="#d4564f"/>
<rect x="954" y="447.0" width="1" height="10.0" fill="#2b9783" fill-opacity="0.8"/>
<rect x="954" y="447.3" width="1" height="4.7" fill="#2b9783"/>
<rect x="955" y="448.5" width="1" height="7.0" fill="#2b9783" fill-opacity="0.8"/>
<rect x="955" y="447.3" width="1" height="6.1" fill="#2b9783"/>
<rect x="956" y="448.3" width="1" height="4.4" fill="#2b9783" fill-opacity="0.8"/>
<rect x="956" y="451.9" width="1" height="2.2" fill="#2b9783"/>
<rect x="957" y="441.0" width="1" height="8.0" fill="#2b9783" fill-opacity="0.8"/>
<rect x="957" y="448.8" width="1" height="3.9" fill="#2b9783"/>
<rect x="958" y="435.0" width="1" height="8.6" fill="#2b9783" fill-opacity="0.8"/>
<rect x="958" y="439.6" width="1" height="9.2" fill="#2b9783"/>
<rect x="959" y="431.7" width="1" height="7.6" fill="#2b9783" fill-opacity="0.8"/>
<rect x="959" y="437.7" width="1" height="2.7" fill="#2b9783"/>
<rect x="960" y="421.0" width="1" height="16.0" fill="#2b9783" fill-opacity="0.8"/>
<rect x="960" y="436.2" width="1" height="2.9" fill="#2b9783"/>
<rect x="961" y="430.0" width="1" height="7.0" fill="#d4564f" fill-opacity="0.8"/>
<rect x="961" y="436.2" width="1" height="1.5" fill="#d4564f"/>
<rect x="962" y="433.0" width="1" height="3.5" fill="#d4564f" fill-opacity="0.8"/>
<rect x="962" y="435.1" width="1" height="2.6" fill="#d4564f"/>
<rect x="963" y="427.0" width="1" height="10.4" fill="#d4564f" fill-opacity="0.8"/>
<rect x="963" y="435.9" width="1" height="1.5" fill="#d4564f"/>
<rect x="964" y="433.8" width="1" height="13.2" fill="#d4564f" fill-opacity="0.8"/>
<rect x="964" y="437.4" width="1" height="3.8" fill="#d4564f"/>
<rect x="965" y="440.6" width="1" height="11.0" fill="#d4564f" fill-opacity="0.8"/>
<rect x="965" y="441.2" width="1" height="5.7" fill="#d4564f"/>
<rect x="966" y="445.5" width="1" height="11.5" fill="#d4564f" fill-opacity="0.8"/>
<rect x="966" y="446.8" width="1" height="8.8" fill="#d4564f"/>
<rect x="967" y="444.0" width="1" height="7.0" fill="#2b9783" fill-opacity="0.8"/>
<rect x="967" y="451.0" width="1" height="4.6" fill="#2b9783"/>
<rect x="968" y="436.0" width="1" height="9.7" fill="#2b9783" fill-opacity="0.8"/>
<rect x="968" y="445.7" width="1" height="5.3" fill="#2b9783"/>
<rect x="969" y="437.4" width="1" height="3.8" fill="#2b9783" fill-opacity="0.8"/>
<rect x="969" y="440.4" width="1" height="5.3" fill="#2b9783"/>
<rect x="970" y="432.0" width="1" height="6.0" fill="#2b9783" fill-opacity="0.8"/>
<rect x="970" y="437.6" width="1" height="2.8" fill="#2b9783"/>
<rect x="971" y="423.7" width="1" height="10.2" fill="#2b9783" fill-opacity="0.8"/>
<rect x="971" y="431.3" width="1" height="6.3" fill="#2b9783"/>
<rect x="972" y="419.0" width="1" height="14.5" fill="#2b9783" fill-opacity="0.8"/>
<rect x="972" y="430.4" width="1" height="1.7" fill="#2b9783"/>
<rect x="973" y="430.0" width="1" height="6.6" fill="#d4564f" fill-opacity="0.8"/>
<rect x="973" y="431.1" width="1" height="5.5" fill="#d4564f"/>
<rect x="974" y="431.5" width="1" height="9.5" fill="#d4564f" fill-opacity="0.8"/>
<rect x="974" y="435.9" width="1" height="2.9" fill="#d4564f"/>
<rect x="975" y="432.0" width="1" height="7.5" fill="#2b9783" fill-opacity="0.8"/>
<rect x="975" y="433.8" width="1" height="4.2" fill="#2b9783"/>
<rect x="976" y="432.0" width="1" height="7.0" fill="#d4564f" fill-opacity="0.8"/>
<rect x="976" y="433.8" width="1" height="5.2" fill="#d4564f"/>
</g>
<g fill="none" stroke-linecap="round">
<path d="M379.4 592.7 L644.5 698.1" stroke="#e0524e" stroke-width="2.2"/>
<path d="M709.1 419.5 L985 427" stroke="#dc5a56" stroke-width="1.9"/>
<g stroke="#4a5ce0" stroke-width="2.2">
<path d="M372.7 664.7 C401.0 708.9 436.7 709.0 478.3 683.5"/>
<path d="M443.9 771.4 C457.7 802.2 488.1 861.2 522.8 811.5"/>
<path d="M536.2 758.4 C575.7 800.1 602.9 785.5 635.6 744.4"/>
<path d="M734.5 495.5 C762.5 510.6 795.1 505.4 823.4 494.2"/>
<path d="M864.4 512.5 C889.8 523.7 918.3 526.4 944.5 516.4"/>
<path d="M927.2 479.4 C956.8 480.9 977.2 488.2 993.8 458.4"/>
</g>
</g>
<!-- gear -->
<g transform="translate(1259,942)" fill="none" stroke="#454545" stroke-width="1.2">
<path d="M-6 0 L-3 -5.2 L3 -5.2 L6 0 L3 5.2 L-3 5.2 Z"/>
<circle cx="0" cy="0" r="2"/>
</g>
<!-- dot -->
<circle cx="209" cy="13.5" r="7" fill="#3a9a80" fill-opacity="0.13"/>
<circle cx="209" cy="13.5" r="3.6" fill="#3a9a80"/>
<!-- logo -->
<path d="M1.8 8 A4 4 0 1 1 7.3 14.2" fill="none" stroke="#3e8f7e" stroke-width="2.2"/>
<circle cx="1.2" cy="15.3" r="4.6" fill="#0c1210"/>
<circle cx="1" cy="15" r="2.6" fill="#3f8b76"/>
<!-- TV logo partial -->
<g fill="#111">
<rect x="0" y="904" width="6" height="5"/>
<rect x="2" y="904" width="4" height="12"/>
<circle cx="12" cy="906.5" r="2.5"/>
<path d="M16 904 L22.5 904 L17.5 916 L11.5 916 Z"/>
</g>
<!-- dino -->
<path d="M30.5 924.3 L36 918 Q38.5 915.8 41.5 915.8 Q44 915.8 45.5 917 L45.5 911.5 Q45.5 910.3 44.3 910.3 L43 910.3 Q42.6 907.8 44.2 906.6 Q46.5 905.3 48.5 906.6 Q49.6 907.6 49.6 909.5 L49.6 920.5 Q49.6 922.5 47.8 923.8 L47.3 926.3 L43.5 926.3 L43.3 924.3 L38.2 924.3 L38 926.3 L35 926.3 L34.8 924.3 Z" fill="none" stroke="#111" stroke-width="1.3" stroke-linejoin="round"/>
</svg>
<div class="topbar"></div>
<div class="usdt"><span>USDT</span><svg style="position:absolute;left:43px;top:7px" width="8" height="6"><path d="M1 1.5 L4 4.5 L7 1.5" fill="none" stroke="#131722" stroke-width="1.3"/></svg></div>
<svg class="abs" style="left:0;top:0" width="260" height="24"><text x="12.8" y="18.5" font-family="Liberation Sans" font-size="14" fill="#131722" textLength="24" lengthAdjust="spacingAndGlyphs">SOL</text><text x="41.3" y="18.5" font-family="Liberation Sans" font-size="14" fill="#131722" textLength="5" lengthAdjust="spacingAndGlyphs">/</text><text x="50.8" y="18.5" font-family="Liberation Sans" font-size="14" fill="#131722" textLength="52.5" lengthAdjust="spacingAndGlyphs">TetherUS</text><text x="106.3" y="18.5" font-family="Liberation Sans" font-size="14" fill="#131722" textLength="3.2" lengthAdjust="spacingAndGlyphs" font-weight="bold">·</text><text x="112.3" y="18.5" font-family="Liberation Sans" font-size="14" fill="#131722" textLength="16.5" lengthAdjust="spacingAndGlyphs">1D</text><text x="131.8" y="18.5" font-family="Liberation Sans" font-size="14" fill="#131722" textLength="3.2" lengthAdjust="spacingAndGlyphs" font-weight="bold">·</text><text x="137.8" y="18.5" font-family="Liberation Sans" font-size="14" fill="#131722" textLength="51.5" lengthAdjust="spacingAndGlyphs">BINANCE</text></svg>
<div class="ohlc">O<span class="r">187.95</span> H<span class="r">190.10</span> L<span class="r">179.43</span> C<span class="r">181.48</span> <span class="r" style="position:absolute;left:180px;top:0">−6.46</span><span class="r" style="position:absolute;left:209.5px;top:0;letter-spacing:-0.3px">(−3.44%)</span></div>
<div class="box sell"><div class="p">181.47</div><div class="l">SELL</div></div>
<div class="spread">0.01</div>
<div class="box buy"><div class="p">181.48</div><div class="l">BUY</div></div>
<div class="ind"><span>6</span><svg style="position:absolute;left:0;top:0" width="12" height="16"><path d="M3.5 8.5 Q5 9 8 6.5" fill="none" stroke="#131722" stroke-width="1.4" stroke-linecap="round"/></svg></div>
<div class="pl" style="top:26.0px">4,000.00</div>
<div class="pl" style="top:63.5px">3,000.00</div>
<div class="pl" style="top:98.2px">2,300.00</div>
<div class="pl" style="top:130.2px">1,800.00</div>
<div class="pl" style="top:162.9px">1,400.00</div>
<div class="pl" style="top:194.4px">1,100.00</div>
<div class="pl" style="top:226.5px">860.00</div>
<div class="pl" style="top:261.0px">660.00</div>
<div class="pl" style="top:294.7px">510.00</div>
<div class="pl" style="top:329.7px">390.00</div>
<div class="pl" style="top:359.6px">310.00</div>
<div class="pl" style="top:393.0px">240.00</div>
<div class="pl" style="top:423.5px">190.00</div>
<div class="pl" style="top:454.3px">150.00</div>
<div class="pl" style="top:489.0px">115.00</div>
<div class="pl" style="top:519.5px">91.00</div>
<div class="pl" style="top:551.9px">71.00</div>
<div class="pl" style="top:582.8px">56.00</div>
<div class="pl" style="top:614.3px">44.00</div>
<div class="pl" style="top:647.9px">34.00</div>
<div class="pl" style="top:678.0px">27.00</div>
<div class="pl" style="top:710.8px">21.00</div>
<div class="pl" style="top:746.3px">16.00</div>
<div class="pl" style="top:778.5px">12.50</div>
<div class="pl" style="top:814.3px">9.50</div>
<div class="pl" style="top:845.1px">7.50</div>
<div class="pl" style="top:876.4px">5.90</div>
<div class="pl" style="top:906.1px">4.70</div>
<div class="tlwrap"><div class="tl b" style="left:107px">2021</div>
<div class="tl" style="left:197.5px">Jul</div>
<div class="tl b" style="left:288.5px">2022</div>
<div class="tl" style="left:377.8px">Jul</div>
<div class="tl b" style="left:468.4px">2023</div>
<div class="tl" style="left:558.4px">Jul</div>
<div class="tl b" style="left:649.4px">2024</div>
<div class="tl" style="left:739px">Jul</div>
<div class="tl b" style="left:830px">2025</div>
<div class="tl" style="left:920px">Jul</div>
<div class="tl b" style="left:1010.5999999999999px">2026</div>
<div class="tl" style="left:1100px">Jul</div>
<div class="tl b" style="left:1191px">2027</div></div>
<svg class="abs" style="left:0;top:0" width="1280" height="947">
<rect x="1174" y="429" width="54" height="17" fill="#e0494a"/>
<rect x="1229" y="429" width="51" height="30" fill="#e0494a"/>
<text x="1177.3" y="442" font-family="Liberation Sans" font-size="11.5" font-weight="bold" fill="#fff" textLength="45" lengthAdjust="spacingAndGlyphs">SOLUSDT</text>
<text x="1236" y="442" font-family="Liberation Sans" font-size="11.5" font-weight="bold" fill="#fff">181.48</text>
<text x="1236" y="455" font-family="Liberation Sans" font-size="11.5" fill="#fff">01:11:33</text>
</svg>
</body></html>
